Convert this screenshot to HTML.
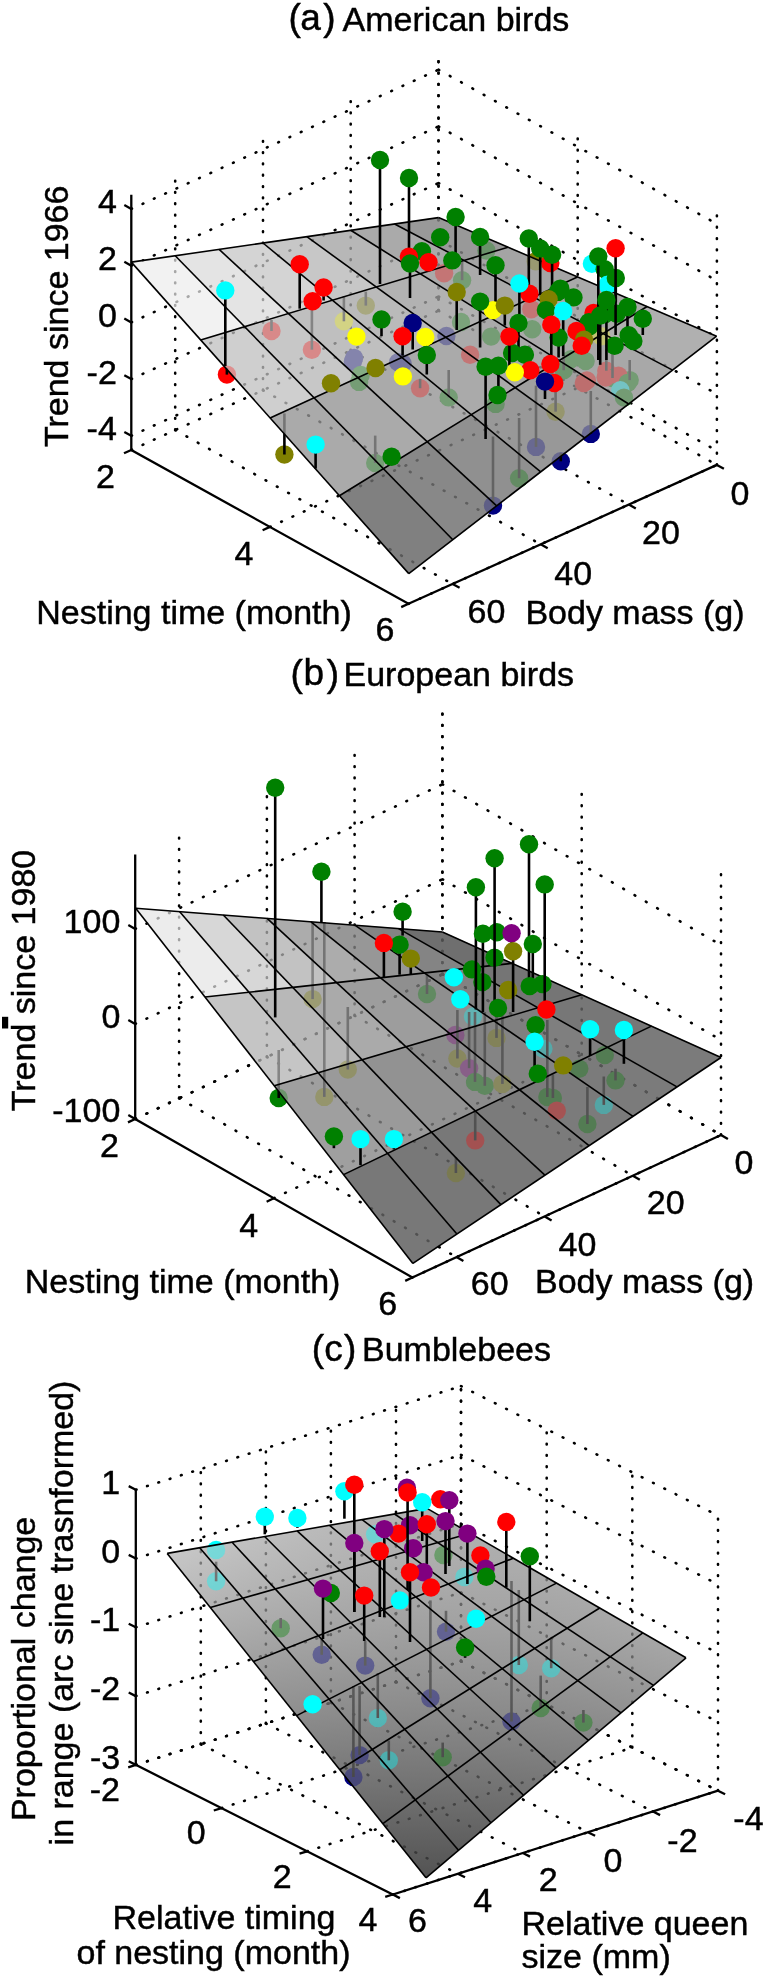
<!DOCTYPE html>
<html><head><meta charset="utf-8"><style>
html,body{margin:0;padding:0;background:#fff;}
svg{display:block;filter:blur(0.6px);}
</style></head><body>
<svg width="767" height="1983" viewBox="0 0 767 1983">
<rect width="767" height="1983" fill="#fff"/>
<g font-family="Liberation Sans, sans-serif" font-size="34" fill="#000">
<g id="under_a"><line x1="131.3" y1="435.8" x2="438.5" y2="296.5" stroke="#000" stroke-width="2.6" stroke-dasharray="0.77 11.64" stroke-linecap="round" fill="none"/>
<line x1="438.5" y1="296.5" x2="716.9" y2="450.7" stroke="#000" stroke-width="2.6" stroke-dasharray="0.80 12.12" stroke-linecap="round" fill="none"/>
<line x1="131.3" y1="379.1" x2="438.5" y2="239.8" stroke="#000" stroke-width="2.6" stroke-dasharray="0.77 11.64" stroke-linecap="round" fill="none"/>
<line x1="438.5" y1="239.8" x2="716.9" y2="394.0" stroke="#000" stroke-width="2.6" stroke-dasharray="0.80 12.12" stroke-linecap="round" fill="none"/>
<line x1="131.3" y1="322.4" x2="438.5" y2="183.1" stroke="#000" stroke-width="2.6" stroke-dasharray="0.77 11.64" stroke-linecap="round" fill="none"/>
<line x1="438.5" y1="183.1" x2="716.9" y2="337.3" stroke="#000" stroke-width="2.6" stroke-dasharray="0.80 12.12" stroke-linecap="round" fill="none"/>
<line x1="131.3" y1="265.7" x2="438.5" y2="126.4" stroke="#000" stroke-width="2.6" stroke-dasharray="0.77 11.64" stroke-linecap="round" fill="none"/>
<line x1="438.5" y1="126.4" x2="716.9" y2="280.6" stroke="#000" stroke-width="2.6" stroke-dasharray="0.80 12.12" stroke-linecap="round" fill="none"/>
<line x1="131.3" y1="209.0" x2="438.5" y2="69.7" stroke="#000" stroke-width="2.6" stroke-dasharray="0.77 11.64" stroke-linecap="round" fill="none"/>
<line x1="438.5" y1="69.7" x2="716.9" y2="223.9" stroke="#000" stroke-width="2.6" stroke-dasharray="0.80 12.12" stroke-linecap="round" fill="none"/>
<line x1="438.5" y1="310.7" x2="438.5" y2="55.5" stroke="#000" stroke-width="2.6" stroke-dasharray="0.70 10.60" stroke-linecap="round" fill="none"/>
<line x1="438.5" y1="310.7" x2="716.9" y2="464.9" stroke="#000" stroke-width="2.6" stroke-dasharray="0.80 12.12" stroke-linecap="round" fill="none"/>
<line x1="350.7" y1="350.5" x2="350.7" y2="95.3" stroke="#000" stroke-width="2.6" stroke-dasharray="0.70 10.60" stroke-linecap="round" fill="none"/>
<line x1="350.7" y1="350.5" x2="628.8" y2="504.6" stroke="#000" stroke-width="2.6" stroke-dasharray="0.80 12.12" stroke-linecap="round" fill="none"/>
<line x1="263.0" y1="390.3" x2="263.0" y2="135.2" stroke="#000" stroke-width="2.6" stroke-dasharray="0.70 10.60" stroke-linecap="round" fill="none"/>
<line x1="263.0" y1="390.3" x2="540.7" y2="544.3" stroke="#000" stroke-width="2.6" stroke-dasharray="0.80 12.12" stroke-linecap="round" fill="none"/>
<line x1="175.2" y1="430.1" x2="175.2" y2="175.0" stroke="#000" stroke-width="2.6" stroke-dasharray="0.70 10.60" stroke-linecap="round" fill="none"/>
<line x1="175.2" y1="430.1" x2="452.6" y2="584.0" stroke="#000" stroke-width="2.6" stroke-dasharray="0.80 12.12" stroke-linecap="round" fill="none"/>
<line x1="438.5" y1="310.7" x2="438.5" y2="55.5" stroke="#000" stroke-width="2.6" stroke-dasharray="0.70 10.60" stroke-linecap="round" fill="none"/>
<line x1="131.3" y1="450.0" x2="438.5" y2="310.7" stroke="#000" stroke-width="2.6" stroke-dasharray="0.77 11.64" stroke-linecap="round" fill="none"/>
<line x1="577.7" y1="387.8" x2="577.7" y2="132.6" stroke="#000" stroke-width="2.6" stroke-dasharray="0.70 10.60" stroke-linecap="round" fill="none"/>
<line x1="269.9" y1="526.9" x2="577.7" y2="387.8" stroke="#000" stroke-width="2.6" stroke-dasharray="0.77 11.63" stroke-linecap="round" fill="none"/>
<line x1="716.9" y1="464.9" x2="716.9" y2="209.7" stroke="#000" stroke-width="2.6" stroke-dasharray="0.70 10.60" stroke-linecap="round" fill="none"/>
<line x1="408.5" y1="603.8" x2="716.9" y2="464.9" stroke="#000" stroke-width="2.6" stroke-dasharray="0.77 11.63" stroke-linecap="round" fill="none"/>
<circle cx="462.1" cy="280.2" r="9.2" fill="#008000"/>
<circle cx="486.4" cy="250.5" r="9.2" fill="#008000"/>
<circle cx="535.7" cy="261.2" r="9.2" fill="#808000"/>
<circle cx="444.1" cy="273.2" r="9.2" fill="#ff0000"/>
<circle cx="365.8" cy="305.6" r="9.2" fill="#808000"/>
<circle cx="343.9" cy="321.3" r="9.2" fill="#ffff00"/>
<circle cx="311.9" cy="349.7" r="9.2" fill="#ff0000"/>
<circle cx="271.5" cy="331.0" r="9.2" fill="#ff0000"/>
<circle cx="531.3" cy="309.2" r="9.2" fill="#ff0000"/>
<circle cx="461.0" cy="322.0" r="9.2" fill="#008000"/>
<circle cx="532.2" cy="329.3" r="9.2" fill="#008000"/>
<circle cx="446.4" cy="336.0" r="9.2" fill="#000080"/>
<circle cx="601.1" cy="336.3" r="9.2" fill="#ffff00"/>
<circle cx="491.1" cy="336.6" r="9.2" fill="#008000"/>
<circle cx="606.3" cy="370.7" r="9.2" fill="#ff0000"/>
<circle cx="612.5" cy="378.0" r="9.2" fill="#008000"/>
<circle cx="563.7" cy="370.2" r="9.2" fill="#008000"/>
<circle cx="629.7" cy="380.1" r="9.2" fill="#008000"/>
<circle cx="470.1" cy="354.8" r="9.2" fill="#ff0000"/>
<circle cx="226.9" cy="374.6" r="9.2" fill="#ff0000"/>
<circle cx="354.1" cy="358.0" r="9.2" fill="#000080"/>
<circle cx="448.7" cy="397.4" r="9.2" fill="#008000"/>
<circle cx="571.0" cy="359.3" r="9.2" fill="#008000"/>
<circle cx="585.6" cy="361.1" r="9.2" fill="#008000"/>
<circle cx="352.9" cy="361.6" r="9.2" fill="#000080"/>
<circle cx="398.2" cy="362.3" r="9.2" fill="#000080"/>
<circle cx="402.6" cy="363.5" r="9.2" fill="#000080"/>
<circle cx="420.1" cy="388.2" r="9.2" fill="#ff0000"/>
<circle cx="536.0" cy="446.9" r="9.2" fill="#000080"/>
<circle cx="360.7" cy="375.0" r="9.2" fill="#008000"/>
<circle cx="618.5" cy="375.7" r="9.2" fill="#ff0000"/>
<circle cx="605.7" cy="377.5" r="9.2" fill="#ff0000"/>
<circle cx="555.6" cy="411.7" r="9.2" fill="#808000"/>
<circle cx="590.8" cy="433.9" r="9.2" fill="#000080"/>
<circle cx="586.9" cy="380.4" r="9.2" fill="#ff0000"/>
<circle cx="359.1" cy="381.9" r="9.2" fill="#008000"/>
<circle cx="583.8" cy="383.0" r="9.2" fill="#ff0000"/>
<circle cx="627.6" cy="383.0" r="9.2" fill="#008000"/>
<circle cx="620.3" cy="390.3" r="9.2" fill="#00ffff"/>
<circle cx="624.0" cy="397.6" r="9.2" fill="#008000"/>
<circle cx="284.4" cy="454.5" r="9.2" fill="#808000"/>
<circle cx="495.6" cy="403.9" r="9.2" fill="#008000"/>
<circle cx="519.1" cy="478.2" r="9.2" fill="#008000"/>
<circle cx="375.2" cy="463.0" r="9.2" fill="#008000"/>
<circle cx="493.0" cy="505.6" r="9.2" fill="#000080"/>
<circle cx="560.8" cy="461.3" r="9.2" fill="#000080"/>
<line x1="462.1" y1="280.2" x2="462.1" y2="262.0" stroke="#000" stroke-width="2.6"/>
<line x1="365.8" y1="305.6" x2="365.8" y2="291.6" stroke="#000" stroke-width="2.6"/>
<line x1="343.9" y1="321.3" x2="343.9" y2="296.0" stroke="#000" stroke-width="2.6"/>
<line x1="311.9" y1="349.7" x2="311.9" y2="306.0" stroke="#000" stroke-width="2.6"/>
<line x1="271.5" y1="331.0" x2="271.5" y2="320.0" stroke="#000" stroke-width="2.6"/>
<line x1="606.3" y1="370.7" x2="606.3" y2="349.0" stroke="#000" stroke-width="2.6"/>
<line x1="612.5" y1="378.0" x2="612.5" y2="349.0" stroke="#000" stroke-width="2.6"/>
<line x1="563.7" y1="370.2" x2="563.7" y2="355.0" stroke="#000" stroke-width="2.6"/>
<line x1="629.7" y1="380.1" x2="629.7" y2="360.0" stroke="#000" stroke-width="2.6"/>
<line x1="226.9" y1="374.6" x2="226.9" y2="368.0" stroke="#000" stroke-width="2.6"/>
<line x1="448.7" y1="397.4" x2="448.7" y2="370.0" stroke="#000" stroke-width="2.6"/>
<line x1="420.1" y1="388.2" x2="420.1" y2="378.8" stroke="#000" stroke-width="2.6"/>
<line x1="536.0" y1="446.9" x2="536.0" y2="385.6" stroke="#000" stroke-width="2.6"/>
<line x1="555.6" y1="411.7" x2="555.6" y2="390.0" stroke="#000" stroke-width="2.6"/>
<line x1="590.8" y1="433.9" x2="590.8" y2="391.0" stroke="#000" stroke-width="2.6"/>
<line x1="284.4" y1="454.5" x2="284.4" y2="413.4" stroke="#000" stroke-width="2.6"/>
<line x1="519.1" y1="478.2" x2="519.1" y2="418.0" stroke="#000" stroke-width="2.6"/>
<line x1="375.2" y1="463.0" x2="375.2" y2="435.6" stroke="#000" stroke-width="2.6"/>
<line x1="493.0" y1="505.6" x2="493.0" y2="436.5" stroke="#000" stroke-width="2.6"/>
<line x1="560.8" y1="461.3" x2="560.8" y2="453.0" stroke="#000" stroke-width="2.6"/></g>
<g><polygon points="131.3,262.1 200.7,340.0 244.6,326.7 175.2,255.7" fill="#f2f2f2" stroke="#f2f2f2" stroke-width="0.5"/>
<polygon points="175.2,255.7 244.6,326.7 288.5,313.5 219.1,249.4" fill="#e4e4e4" stroke="#e4e4e4" stroke-width="0.5"/>
<polygon points="219.1,249.4 288.5,313.5 332.4,300.2 263.0,243.0" fill="#d4d4d4" stroke="#d4d4d4" stroke-width="0.5"/>
<polygon points="263.0,243.0 332.4,300.2 376.3,287.0 306.8,236.7" fill="#c7c7c7" stroke="#c7c7c7" stroke-width="0.5"/>
<polygon points="306.8,236.7 376.3,287.0 420.2,273.7 350.7,230.3" fill="#b7b7b7" stroke="#b7b7b7" stroke-width="0.5"/>
<polygon points="350.7,230.3 420.2,273.7 464.1,260.5 394.6,224.0" fill="#aaaaaa" stroke="#aaaaaa" stroke-width="0.5"/>
<polygon points="394.6,224.0 464.1,260.5 508.0,247.2 438.5,217.6" fill="#999999" stroke="#999999" stroke-width="0.5"/>
<polygon points="200.7,340.0 270.1,417.9 314.0,397.7 244.6,326.7" fill="#cfcfcf" stroke="#cfcfcf" stroke-width="0.5"/>
<polygon points="244.6,326.7 314.0,397.7 357.9,377.6 288.5,313.5" fill="#c7c7c7" stroke="#c7c7c7" stroke-width="0.5"/>
<polygon points="288.5,313.5 357.9,377.6 401.8,357.4 332.4,300.2" fill="#bfbfbf" stroke="#bfbfbf" stroke-width="0.5"/>
<polygon points="332.4,300.2 401.8,357.4 445.8,337.3 376.3,287.0" fill="#bababa" stroke="#bababa" stroke-width="0.5"/>
<polygon points="376.3,287.0 445.8,337.3 489.7,317.2 420.2,273.7" fill="#b2b2b2" stroke="#b2b2b2" stroke-width="0.5"/>
<polygon points="420.2,273.7 489.7,317.2 533.6,297.0 464.1,260.5" fill="#aaaaaa" stroke="#aaaaaa" stroke-width="0.5"/>
<polygon points="464.1,260.5 533.6,297.0 577.5,276.9 508.0,247.2" fill="#a4a4a4" stroke="#a4a4a4" stroke-width="0.5"/>
<polygon points="270.1,417.9 339.4,495.7 383.4,468.7 314.0,397.7" fill="#aaaaaa" stroke="#aaaaaa" stroke-width="0.5"/>
<polygon points="314.0,397.7 383.4,468.7 427.3,441.7 357.9,377.6" fill="#aaaaaa" stroke="#aaaaaa" stroke-width="0.5"/>
<polygon points="357.9,377.6 427.3,441.7 471.3,414.7 401.8,357.4" fill="#aaaaaa" stroke="#aaaaaa" stroke-width="0.5"/>
<polygon points="401.8,357.4 471.3,414.7 515.2,387.6 445.8,337.3" fill="#aaaaaa" stroke="#aaaaaa" stroke-width="0.5"/>
<polygon points="445.8,337.3 515.2,387.6 559.2,360.6 489.7,317.2" fill="#aaaaaa" stroke="#aaaaaa" stroke-width="0.5"/>
<polygon points="489.7,317.2 559.2,360.6 603.1,333.6 533.6,297.0" fill="#aaaaaa" stroke="#aaaaaa" stroke-width="0.5"/>
<polygon points="533.6,297.0 603.1,333.6 647.1,306.5 577.5,276.9" fill="#aaaaaa" stroke="#aaaaaa" stroke-width="0.5"/>
<polygon points="339.4,495.7 408.8,573.6 452.8,539.7 383.4,468.7" fill="#808080" stroke="#808080" stroke-width="0.5"/>
<polygon points="383.4,468.7 452.8,539.7 496.7,505.8 427.3,441.7" fill="#888888" stroke="#888888" stroke-width="0.5"/>
<polygon points="427.3,441.7 496.7,505.8 540.7,471.9 471.3,414.7" fill="#909090" stroke="#909090" stroke-width="0.5"/>
<polygon points="471.3,414.7 540.7,471.9 584.7,437.9 515.2,387.6" fill="#989898" stroke="#989898" stroke-width="0.5"/>
<polygon points="515.2,387.6 584.7,437.9 628.7,404.0 559.2,360.6" fill="#a0a0a0" stroke="#a0a0a0" stroke-width="0.5"/>
<polygon points="559.2,360.6 628.7,404.0 672.6,370.1 603.1,333.6" fill="#a8a8a8" stroke="#a8a8a8" stroke-width="0.5"/>
<polygon points="603.1,333.6 672.6,370.1 716.6,336.2 647.1,306.5" fill="#b0b0b0" stroke="#b0b0b0" stroke-width="0.5"/></g>
<clipPath id="clip_a"><polygon points="131.3,262.1 408.8,573.6 716.6,336.2 438.5,217.6"/></clipPath>
<use href="#under_a" clip-path="url(#clip_a)" opacity="0.31"/>
<line x1="131.3" y1="262.1" x2="438.5" y2="217.6" stroke="#000" stroke-width="1.6" fill="none"/>
<line x1="200.7" y1="340.0" x2="508.0" y2="247.2" stroke="#000" stroke-width="1.6" fill="none"/>
<line x1="270.1" y1="417.9" x2="577.5" y2="276.9" stroke="#000" stroke-width="1.6" fill="none"/>
<line x1="339.4" y1="495.7" x2="647.1" y2="306.5" stroke="#000" stroke-width="1.6" fill="none"/>
<line x1="408.8" y1="573.6" x2="716.6" y2="336.2" stroke="#000" stroke-width="1.6" fill="none"/>
<line x1="131.3" y1="262.1" x2="408.8" y2="573.6" stroke="#000" stroke-width="1.6" fill="none"/>
<line x1="175.2" y1="255.7" x2="452.8" y2="539.7" stroke="#000" stroke-width="1.6" fill="none"/>
<line x1="219.1" y1="249.4" x2="496.7" y2="505.8" stroke="#000" stroke-width="1.6" fill="none"/>
<line x1="263.0" y1="243.0" x2="540.7" y2="471.9" stroke="#000" stroke-width="1.6" fill="none"/>
<line x1="306.8" y1="236.7" x2="584.7" y2="437.9" stroke="#000" stroke-width="1.6" fill="none"/>
<line x1="350.7" y1="230.3" x2="628.7" y2="404.0" stroke="#000" stroke-width="1.6" fill="none"/>
<line x1="394.6" y1="224.0" x2="672.6" y2="370.1" stroke="#000" stroke-width="1.6" fill="none"/>
<line x1="438.5" y1="217.6" x2="716.6" y2="336.2" stroke="#000" stroke-width="1.6" fill="none"/>
<circle cx="440.2" cy="237.2" r="9.2" fill="#008000"/>
<line x1="409.0" y1="178.0" x2="409.0" y2="252.0" stroke="#000" stroke-width="2.6"/><circle cx="409.0" cy="178.0" r="9.2" fill="#008000"/>
<line x1="455.6" y1="217.0" x2="455.6" y2="256.0" stroke="#000" stroke-width="2.6"/><circle cx="455.6" cy="217.0" r="9.2" fill="#008000"/>
<circle cx="421.9" cy="251.3" r="9.2" fill="#008000"/>
<circle cx="408.9" cy="256.8" r="9.2" fill="#ff0000"/>
<circle cx="452.3" cy="260.4" r="9.2" fill="#008000"/>
<circle cx="428.5" cy="262.2" r="9.2" fill="#ff0000"/>
<line x1="480.1" y1="236.9" x2="480.1" y2="275.0" stroke="#000" stroke-width="2.6"/><circle cx="480.1" cy="236.9" r="9.2" fill="#008000"/>
<circle cx="550.3" cy="263.0" r="9.2" fill="#ff0000"/>
<circle cx="591.9" cy="263.8" r="9.2" fill="#00ffff"/>
<circle cx="604.7" cy="269.2" r="9.2" fill="#008000"/>
<line x1="380.0" y1="160.0" x2="380.0" y2="284.0" stroke="#000" stroke-width="2.6"/><circle cx="380.0" cy="160.0" r="9.2" fill="#008000"/>
<line x1="528.8" y1="238.5" x2="528.8" y2="295.0" stroke="#000" stroke-width="2.6"/><circle cx="528.8" cy="238.5" r="9.2" fill="#008000"/>
<line x1="540.2" y1="248.4" x2="540.2" y2="295.0" stroke="#000" stroke-width="2.6"/><circle cx="540.2" cy="248.4" r="9.2" fill="#008000"/>
<line x1="552.1" y1="254.8" x2="552.1" y2="295.0" stroke="#000" stroke-width="2.6"/><circle cx="552.1" cy="254.8" r="9.2" fill="#008000"/>
<circle cx="607.5" cy="284.7" r="9.2" fill="#00ffff"/>
<line x1="410.0" y1="263.5" x2="410.0" y2="298.0" stroke="#000" stroke-width="2.6"/><circle cx="410.0" cy="263.5" r="9.2" fill="#008000"/>
<line x1="323.6" y1="287.5" x2="323.6" y2="300.5" stroke="#000" stroke-width="2.6"/><circle cx="323.6" cy="287.5" r="9.2" fill="#ff0000"/>
<circle cx="560.3" cy="288.6" r="9.2" fill="#008000"/>
<line x1="615.8" y1="278.0" x2="615.8" y2="302.5" stroke="#000" stroke-width="2.6"/><circle cx="615.8" cy="278.0" r="9.2" fill="#008000"/>
<circle cx="557.7" cy="291.9" r="9.2" fill="#008000"/>
<circle cx="529.4" cy="293.7" r="9.2" fill="#ff0000"/>
<line x1="299.7" y1="264.2" x2="299.7" y2="308.7" stroke="#000" stroke-width="2.6"/><circle cx="299.7" cy="264.2" r="9.2" fill="#ff0000"/>
<circle cx="573.5" cy="297.4" r="9.2" fill="#008000"/>
<line x1="495.5" y1="265.2" x2="495.5" y2="310.0" stroke="#000" stroke-width="2.6"/><circle cx="495.5" cy="265.2" r="9.2" fill="#008000"/>
<circle cx="548.6" cy="299.2" r="9.2" fill="#808000"/>
<circle cx="312.6" cy="301.2" r="9.2" fill="#ff0000"/>
<line x1="519.4" y1="283.5" x2="519.4" y2="317.0" stroke="#000" stroke-width="2.6"/><circle cx="519.4" cy="283.5" r="9.2" fill="#00ffff"/>
<circle cx="492.9" cy="310.1" r="9.2" fill="#ffff00"/>
<circle cx="545.9" cy="310.1" r="9.2" fill="#008000"/>
<circle cx="593.5" cy="312.9" r="9.2" fill="#ff0000"/>
<line x1="504.8" y1="305.6" x2="504.8" y2="325.6" stroke="#000" stroke-width="2.6"/><circle cx="504.8" cy="305.6" r="9.2" fill="#808000"/>
<circle cx="616.7" cy="313.7" r="9.2" fill="#008000"/>
<circle cx="605.2" cy="314.0" r="9.2" fill="#008000"/>
<line x1="456.7" y1="292.0" x2="456.7" y2="330.0" stroke="#000" stroke-width="2.6"/><circle cx="456.7" cy="292.0" r="9.2" fill="#808000"/>
<line x1="627.5" y1="307.0" x2="627.5" y2="332.0" stroke="#000" stroke-width="2.6"/><circle cx="627.5" cy="307.0" r="9.2" fill="#008000"/>
<circle cx="588.8" cy="322.2" r="9.2" fill="#008000"/>
<line x1="615.6" y1="248.3" x2="615.6" y2="335.0" stroke="#000" stroke-width="2.6"/><circle cx="615.6" cy="248.3" r="9.2" fill="#ff0000"/>
<line x1="642.8" y1="318.7" x2="642.8" y2="335.0" stroke="#000" stroke-width="2.6"/><circle cx="642.8" cy="318.7" r="9.2" fill="#008000"/>
<line x1="381.5" y1="319.4" x2="381.5" y2="336.2" stroke="#000" stroke-width="2.6"/><circle cx="381.5" cy="319.4" r="9.2" fill="#008000"/>
<circle cx="589.3" cy="326.4" r="9.2" fill="#008000"/>
<circle cx="576.5" cy="331.0" r="9.2" fill="#ff0000"/>
<circle cx="628.7" cy="335.2" r="9.2" fill="#008000"/>
<line x1="480.1" y1="301.6" x2="480.1" y2="347.5" stroke="#000" stroke-width="2.6"/><circle cx="480.1" cy="301.6" r="9.2" fill="#008000"/>
<circle cx="356.4" cy="336.6" r="9.2" fill="#ffff00"/>
<line x1="518.5" y1="322.9" x2="518.5" y2="349.0" stroke="#000" stroke-width="2.6"/><circle cx="518.5" cy="322.9" r="9.2" fill="#008000"/>
<circle cx="425.3" cy="337.0" r="9.2" fill="#ffff00"/>
<line x1="412.7" y1="322.9" x2="412.7" y2="349.5" stroke="#000" stroke-width="2.6"/><circle cx="412.7" cy="322.9" r="9.2" fill="#000080"/>
<circle cx="584.1" cy="339.8" r="9.2" fill="#808000"/>
<circle cx="633.4" cy="341.0" r="9.2" fill="#008000"/>
<line x1="402.6" y1="336.2" x2="402.6" y2="355.7" stroke="#000" stroke-width="2.6"/><circle cx="402.6" cy="336.2" r="9.2" fill="#ff0000"/>
<line x1="563.2" y1="311.0" x2="563.2" y2="356.0" stroke="#000" stroke-width="2.6"/><circle cx="563.2" cy="311.0" r="9.2" fill="#00ffff"/>
<line x1="558.6" y1="337.5" x2="558.6" y2="357.5" stroke="#000" stroke-width="2.6"/><circle cx="558.6" cy="337.5" r="9.2" fill="#008000"/>
<circle cx="581.7" cy="345.7" r="9.2" fill="#ff0000"/>
<circle cx="614.6" cy="345.7" r="9.2" fill="#008000"/>
<line x1="598.3" y1="256.5" x2="598.3" y2="360.0" stroke="#000" stroke-width="2.6"/><circle cx="598.3" cy="256.5" r="9.2" fill="#008000"/>
<line x1="606.4" y1="300.0" x2="606.4" y2="360.0" stroke="#000" stroke-width="2.6"/><circle cx="606.4" cy="300.0" r="9.2" fill="#008000"/>
<line x1="551.3" y1="324.7" x2="551.3" y2="362.0" stroke="#000" stroke-width="2.6"/><circle cx="551.3" cy="324.7" r="9.2" fill="#ff0000"/>
<line x1="600.2" y1="315.5" x2="600.2" y2="364.8" stroke="#000" stroke-width="2.6"/><circle cx="600.2" cy="315.5" r="9.2" fill="#008000"/>
<circle cx="512.1" cy="353.0" r="9.2" fill="#008000"/>
<line x1="225.3" y1="290.4" x2="225.3" y2="366.0" stroke="#000" stroke-width="2.6"/><circle cx="225.3" cy="290.4" r="9.2" fill="#00ffff"/>
<circle cx="524.9" cy="354.8" r="9.2" fill="#008000"/>
<line x1="509.4" y1="336.6" x2="509.4" y2="367.6" stroke="#000" stroke-width="2.6"/><circle cx="509.4" cy="336.6" r="9.2" fill="#ff0000"/>
<line x1="426.8" y1="354.9" x2="426.8" y2="374.5" stroke="#000" stroke-width="2.6"/><circle cx="426.8" cy="354.9" r="9.2" fill="#008000"/>
<circle cx="550.4" cy="364.0" r="9.2" fill="#ff0000"/>
<circle cx="375.5" cy="368.0" r="9.2" fill="#808000"/>
<circle cx="530.3" cy="370.3" r="9.2" fill="#ff0000"/>
<circle cx="514.8" cy="372.2" r="9.2" fill="#ffff00"/>
<circle cx="402.9" cy="376.4" r="9.2" fill="#ffff00"/>
<line x1="498.4" y1="365.8" x2="498.4" y2="391.0" stroke="#000" stroke-width="2.6"/><circle cx="498.4" cy="365.8" r="9.2" fill="#008000"/>
<circle cx="554.3" cy="383.0" r="9.2" fill="#ff0000"/>
<circle cx="331.0" cy="383.2" r="9.2" fill="#808000"/>
<line x1="545.0" y1="381.6" x2="545.0" y2="399.0" stroke="#000" stroke-width="2.6"/><circle cx="545.0" cy="381.6" r="9.2" fill="#000080"/>
<circle cx="497.5" cy="395.0" r="9.2" fill="#008000"/>
<line x1="485.6" y1="366.7" x2="485.6" y2="439.0" stroke="#000" stroke-width="2.6"/><circle cx="485.6" cy="366.7" r="9.2" fill="#008000"/>
<line x1="315.6" y1="444.6" x2="315.6" y2="468.6" stroke="#000" stroke-width="2.6"/><circle cx="315.6" cy="444.6" r="9.2" fill="#00ffff"/>
<circle cx="391.6" cy="456.8" r="9.2" fill="#008000"/>
<polyline points="131.3,194.8 131.3,450.0 408.5,603.8 716.9,464.9" stroke="#000" stroke-width="2.3" fill="none" stroke-linejoin="miter"/>
<line x1="131.3" y1="435.8" x2="124.3" y2="431.9" stroke="#000" stroke-width="2.3" fill="none"/>
<line x1="131.3" y1="379.1" x2="124.3" y2="375.2" stroke="#000" stroke-width="2.3" fill="none"/>
<line x1="131.3" y1="322.4" x2="124.3" y2="318.5" stroke="#000" stroke-width="2.3" fill="none"/>
<line x1="131.3" y1="265.7" x2="124.3" y2="261.8" stroke="#000" stroke-width="2.3" fill="none"/>
<line x1="131.3" y1="209.0" x2="124.3" y2="205.1" stroke="#000" stroke-width="2.3" fill="none"/>
<line x1="131.3" y1="450.0" x2="124.0" y2="453.3" stroke="#000" stroke-width="2.3" fill="none"/>
<line x1="269.9" y1="526.9" x2="262.6" y2="530.2" stroke="#000" stroke-width="2.3" fill="none"/>
<line x1="408.5" y1="603.8" x2="401.2" y2="607.1" stroke="#000" stroke-width="2.3" fill="none"/>
<line x1="716.9" y1="464.9" x2="723.9" y2="468.8" stroke="#000" stroke-width="2.3" fill="none"/>
<line x1="628.8" y1="504.6" x2="635.8" y2="508.5" stroke="#000" stroke-width="2.3" fill="none"/>
<line x1="540.7" y1="544.3" x2="547.7" y2="548.2" stroke="#000" stroke-width="2.3" fill="none"/>
<line x1="452.6" y1="584.0" x2="459.6" y2="587.8" stroke="#000" stroke-width="2.3" fill="none"/>
<text x="288.6" y="30.4" font-size="37" text-anchor="start" stroke="#000" stroke-width="0.45">(</text>
<text x="310.6" y="30.4" font-size="37" text-anchor="middle" stroke="#000" stroke-width="0.45">a</text>
<text x="323.2" y="30.4" font-size="37" text-anchor="start" stroke="#000" stroke-width="0.45">)</text>
<text x="342.6" y="30.5" text-anchor="start" stroke="#000" stroke-width="0.45">American birds</text>
<text x="68.2" y="316.3" text-anchor="middle" stroke="#000" stroke-width="0.45" transform="rotate(-90 68.2 316.3)">Trend since 1966</text>
<text x="116.8" y="212.5" text-anchor="end" stroke="#000" stroke-width="0.45">4</text>
<text x="116.8" y="269.7" text-anchor="end" stroke="#000" stroke-width="0.45">2</text>
<text x="116.8" y="327.0" text-anchor="end" stroke="#000" stroke-width="0.45">0</text>
<text x="116.8" y="384.0" text-anchor="end" stroke="#000" stroke-width="0.45">-2</text>
<text x="116.8" y="440.0" text-anchor="end" stroke="#000" stroke-width="0.45">-4</text>
<text x="105.5" y="488.0" text-anchor="middle" stroke="#000" stroke-width="0.45">2</text>
<text x="244.0" y="565.0" text-anchor="middle" stroke="#000" stroke-width="0.45">4</text>
<text x="385.0" y="641.0" text-anchor="middle" stroke="#000" stroke-width="0.45">6</text>
<text x="194.0" y="624.0" text-anchor="middle" stroke="#000" stroke-width="0.45">Nesting time (month)</text>
<text x="740.0" y="505.0" text-anchor="middle" stroke="#000" stroke-width="0.45">0</text>
<text x="661.0" y="544.4" text-anchor="middle" stroke="#000" stroke-width="0.45">20</text>
<text x="573.2" y="585.0" text-anchor="middle" stroke="#000" stroke-width="0.45">40</text>
<text x="486.5" y="623.3" text-anchor="middle" stroke="#000" stroke-width="0.45">60</text>
<text x="635.0" y="624.0" text-anchor="middle" stroke="#000" stroke-width="0.45">Body mass (g)</text>
<g id="under_b"><line x1="135.2" y1="1119.0" x2="442.4" y2="974.3" stroke="#000" stroke-width="2.6" stroke-dasharray="0.77 11.72" stroke-linecap="round" fill="none"/>
<line x1="442.4" y1="974.3" x2="721.0" y2="1135.0" stroke="#000" stroke-width="2.6" stroke-dasharray="0.81 12.24" stroke-linecap="round" fill="none"/>
<line x1="135.2" y1="1024.0" x2="442.4" y2="879.3" stroke="#000" stroke-width="2.6" stroke-dasharray="0.77 11.72" stroke-linecap="round" fill="none"/>
<line x1="442.4" y1="879.3" x2="721.0" y2="1040.0" stroke="#000" stroke-width="2.6" stroke-dasharray="0.81 12.24" stroke-linecap="round" fill="none"/>
<line x1="135.2" y1="929.0" x2="442.4" y2="784.3" stroke="#000" stroke-width="2.6" stroke-dasharray="0.77 11.72" stroke-linecap="round" fill="none"/>
<line x1="442.4" y1="784.3" x2="721.0" y2="945.0" stroke="#000" stroke-width="2.6" stroke-dasharray="0.81 12.24" stroke-linecap="round" fill="none"/>
<line x1="442.4" y1="974.3" x2="442.4" y2="709.8" stroke="#000" stroke-width="2.6" stroke-dasharray="0.70 10.60" stroke-linecap="round" fill="none"/>
<line x1="442.4" y1="974.3" x2="721.0" y2="1135.0" stroke="#000" stroke-width="2.6" stroke-dasharray="0.81 12.24" stroke-linecap="round" fill="none"/>
<line x1="354.6" y1="1015.6" x2="354.6" y2="751.2" stroke="#000" stroke-width="2.6" stroke-dasharray="0.70 10.60" stroke-linecap="round" fill="none"/>
<line x1="354.6" y1="1015.6" x2="632.8" y2="1175.7" stroke="#000" stroke-width="2.6" stroke-dasharray="0.81 12.23" stroke-linecap="round" fill="none"/>
<line x1="266.9" y1="1057.0" x2="266.9" y2="792.5" stroke="#000" stroke-width="2.6" stroke-dasharray="0.70 10.60" stroke-linecap="round" fill="none"/>
<line x1="266.9" y1="1057.0" x2="544.7" y2="1216.4" stroke="#000" stroke-width="2.6" stroke-dasharray="0.81 12.22" stroke-linecap="round" fill="none"/>
<line x1="179.1" y1="1098.3" x2="179.1" y2="833.8" stroke="#000" stroke-width="2.6" stroke-dasharray="0.70 10.60" stroke-linecap="round" fill="none"/>
<line x1="179.1" y1="1098.3" x2="456.5" y2="1257.1" stroke="#000" stroke-width="2.6" stroke-dasharray="0.81 12.21" stroke-linecap="round" fill="none"/>
<line x1="442.4" y1="974.3" x2="442.4" y2="709.8" stroke="#000" stroke-width="2.6" stroke-dasharray="0.70 10.60" stroke-linecap="round" fill="none"/>
<line x1="135.2" y1="1119.0" x2="442.4" y2="974.3" stroke="#000" stroke-width="2.6" stroke-dasharray="0.77 11.72" stroke-linecap="round" fill="none"/>
<line x1="581.7" y1="1054.7" x2="581.7" y2="790.2" stroke="#000" stroke-width="2.6" stroke-dasharray="0.70 10.60" stroke-linecap="round" fill="none"/>
<line x1="273.8" y1="1198.2" x2="581.7" y2="1054.7" stroke="#000" stroke-width="2.6" stroke-dasharray="0.77 11.70" stroke-linecap="round" fill="none"/>
<line x1="721.0" y1="1135.0" x2="721.0" y2="870.5" stroke="#000" stroke-width="2.6" stroke-dasharray="0.70 10.60" stroke-linecap="round" fill="none"/>
<line x1="412.4" y1="1277.5" x2="721.0" y2="1135.0" stroke="#000" stroke-width="2.6" stroke-dasharray="0.77 11.68" stroke-linecap="round" fill="none"/>
<circle cx="312.6" cy="999.1" r="9.2" fill="#808000"/>
<circle cx="324.3" cy="1096.9" r="9.2" fill="#808000"/>
<circle cx="427.0" cy="994.0" r="9.2" fill="#008000"/>
<circle cx="347.8" cy="1069.5" r="9.2" fill="#808000"/>
<circle cx="457.4" cy="1058.5" r="9.2" fill="#808000"/>
<circle cx="496.5" cy="1037.9" r="9.2" fill="#808000"/>
<circle cx="469.1" cy="1068.2" r="9.2" fill="#800080"/>
<circle cx="475.0" cy="1081.9" r="9.2" fill="#008000"/>
<circle cx="484.8" cy="1085.8" r="9.2" fill="#008000"/>
<circle cx="502.4" cy="1083.9" r="9.2" fill="#808000"/>
<circle cx="547.3" cy="1097.0" r="9.2" fill="#008000"/>
<circle cx="473.0" cy="1016.4" r="9.2" fill="#00ffff"/>
<circle cx="455.4" cy="1035.0" r="9.2" fill="#800080"/>
<circle cx="278.7" cy="1098.0" r="9.2" fill="#008000"/>
<circle cx="543.4" cy="1048.7" r="9.2" fill="#00ffff"/>
<circle cx="604.8" cy="1055.0" r="9.2" fill="#008000"/>
<circle cx="615.5" cy="1080.4" r="9.2" fill="#008000"/>
<circle cx="552.9" cy="1098.0" r="9.2" fill="#008000"/>
<circle cx="603.8" cy="1104.9" r="9.2" fill="#00ffff"/>
<circle cx="579.3" cy="1068.7" r="9.2" fill="#008000"/>
<circle cx="587.4" cy="1124.0" r="9.2" fill="#008000"/>
<circle cx="475.2" cy="1140.4" r="9.2" fill="#ff0000"/>
<circle cx="556.8" cy="1110.7" r="9.2" fill="#ff0000"/>
<circle cx="455.9" cy="1173.0" r="9.2" fill="#808000"/>
<line x1="312.6" y1="999.1" x2="312.6" y2="922.0" stroke="#000" stroke-width="2.6"/>
<line x1="324.3" y1="1096.9" x2="324.3" y2="922.0" stroke="#000" stroke-width="2.6"/>
<line x1="427.0" y1="994.0" x2="427.0" y2="974.7" stroke="#000" stroke-width="2.6"/>
<line x1="347.8" y1="1069.5" x2="347.8" y2="1007.0" stroke="#000" stroke-width="2.6"/>
<line x1="457.4" y1="1058.5" x2="457.4" y2="1010.0" stroke="#000" stroke-width="2.6"/>
<line x1="496.5" y1="1037.9" x2="496.5" y2="1010.0" stroke="#000" stroke-width="2.6"/>
<line x1="469.1" y1="1068.2" x2="469.1" y2="1012.0" stroke="#000" stroke-width="2.6"/>
<line x1="475.0" y1="1081.9" x2="475.0" y2="1012.0" stroke="#000" stroke-width="2.6"/>
<line x1="484.8" y1="1085.8" x2="484.8" y2="1012.0" stroke="#000" stroke-width="2.6"/>
<line x1="502.4" y1="1083.9" x2="502.4" y2="1012.0" stroke="#000" stroke-width="2.6"/>
<line x1="547.3" y1="1097.0" x2="547.3" y2="1020.0" stroke="#000" stroke-width="2.6"/>
<line x1="278.7" y1="1098.0" x2="278.7" y2="1050.0" stroke="#000" stroke-width="2.6"/>
<line x1="615.5" y1="1080.4" x2="615.5" y2="1068.7" stroke="#000" stroke-width="2.6"/>
<line x1="552.9" y1="1098.0" x2="552.9" y2="1074.5" stroke="#000" stroke-width="2.6"/>
<line x1="603.8" y1="1104.9" x2="603.8" y2="1076.5" stroke="#000" stroke-width="2.6"/>
<line x1="587.4" y1="1124.0" x2="587.4" y2="1087.0" stroke="#000" stroke-width="2.6"/>
<line x1="475.2" y1="1140.4" x2="475.2" y2="1111.7" stroke="#000" stroke-width="2.6"/>
<line x1="455.9" y1="1173.0" x2="455.9" y2="1157.4" stroke="#000" stroke-width="2.6"/></g>
<g><polygon points="135.7,908.2 205.0,997.0 248.9,992.2 179.5,911.6" fill="#ececec" stroke="#ececec" stroke-width="0.5"/>
<polygon points="179.5,911.6 248.9,992.2 292.7,987.4 223.3,915.0" fill="#d7d7d7" stroke="#d7d7d7" stroke-width="0.5"/>
<polygon points="223.3,915.0 292.7,987.4 336.6,982.6 267.1,918.4" fill="#c2c2c2" stroke="#c2c2c2" stroke-width="0.5"/>
<polygon points="267.1,918.4 336.6,982.6 380.5,977.8 311.0,921.8" fill="#acacac" stroke="#acacac" stroke-width="0.5"/>
<polygon points="311.0,921.8 380.5,977.8 424.3,973.0 354.8,925.2" fill="#979797" stroke="#979797" stroke-width="0.5"/>
<polygon points="354.8,925.2 424.3,973.0 468.2,968.2 398.6,928.6" fill="#848484" stroke="#848484" stroke-width="0.5"/>
<polygon points="398.6,928.6 468.2,968.2 512.0,963.4 442.4,932.0" fill="#6f6f6f" stroke="#6f6f6f" stroke-width="0.5"/>
<polygon points="205.0,997.0 274.3,1085.8 318.2,1072.8 248.9,992.2" fill="#c5c5c5" stroke="#c5c5c5" stroke-width="0.5"/>
<polygon points="248.9,992.2 318.2,1072.8 362.1,1059.8 292.7,987.4" fill="#b8b8b8" stroke="#b8b8b8" stroke-width="0.5"/>
<polygon points="292.7,987.4 362.1,1059.8 406.0,1046.8 336.6,982.6" fill="#aaaaaa" stroke="#aaaaaa" stroke-width="0.5"/>
<polygon points="336.6,982.6 406.0,1046.8 450.0,1033.8 380.5,977.8" fill="#9d9d9d" stroke="#9d9d9d" stroke-width="0.5"/>
<polygon points="380.5,977.8 450.0,1033.8 493.9,1020.8 424.3,973.0" fill="#8f8f8f" stroke="#8f8f8f" stroke-width="0.5"/>
<polygon points="424.3,973.0 493.9,1020.8 537.8,1007.8 468.2,968.2" fill="#828282" stroke="#828282" stroke-width="0.5"/>
<polygon points="468.2,968.2 537.8,1007.8 581.7,994.8 512.0,963.4" fill="#757575" stroke="#757575" stroke-width="0.5"/>
<polygon points="274.3,1085.8 343.6,1174.6 387.6,1153.4 318.2,1072.8" fill="#9f9f9f" stroke="#9f9f9f" stroke-width="0.5"/>
<polygon points="318.2,1072.8 387.6,1153.4 431.5,1132.2 362.1,1059.8" fill="#9a9a9a" stroke="#9a9a9a" stroke-width="0.5"/>
<polygon points="362.1,1059.8 431.5,1132.2 475.5,1111.0 406.0,1046.8" fill="#929292" stroke="#929292" stroke-width="0.5"/>
<polygon points="406.0,1046.8 475.5,1111.0 519.5,1089.8 450.0,1033.8" fill="#8c8c8c" stroke="#8c8c8c" stroke-width="0.5"/>
<polygon points="450.0,1033.8 519.5,1089.8 563.4,1068.5 493.9,1020.8" fill="#848484" stroke="#848484" stroke-width="0.5"/>
<polygon points="493.9,1020.8 563.4,1068.5 607.4,1047.3 537.8,1007.8" fill="#7f7f7f" stroke="#7f7f7f" stroke-width="0.5"/>
<polygon points="537.8,1007.8 607.4,1047.3 651.4,1026.1 581.7,994.8" fill="#777777" stroke="#777777" stroke-width="0.5"/>
<polygon points="343.6,1174.6 412.9,1263.4 456.9,1234.0 387.6,1153.4" fill="#787878" stroke="#787878" stroke-width="0.5"/>
<polygon points="387.6,1153.4 456.9,1234.0 500.9,1204.6 431.5,1132.2" fill="#787878" stroke="#787878" stroke-width="0.5"/>
<polygon points="431.5,1132.2 500.9,1204.6 544.9,1175.2 475.5,1111.0" fill="#787878" stroke="#787878" stroke-width="0.5"/>
<polygon points="475.5,1111.0 544.9,1175.2 589.0,1145.7 519.5,1089.8" fill="#7b7b7b" stroke="#7b7b7b" stroke-width="0.5"/>
<polygon points="519.5,1089.8 589.0,1145.7 633.0,1116.3 563.4,1068.5" fill="#7b7b7b" stroke="#7b7b7b" stroke-width="0.5"/>
<polygon points="563.4,1068.5 633.0,1116.3 677.0,1086.9 607.4,1047.3" fill="#7b7b7b" stroke="#7b7b7b" stroke-width="0.5"/>
<polygon points="607.4,1047.3 677.0,1086.9 721.0,1057.5 651.4,1026.1" fill="#7b7b7b" stroke="#7b7b7b" stroke-width="0.5"/></g>
<clipPath id="clip_b"><polygon points="135.7,908.2 412.9,1263.4 721.0,1057.5 442.4,932.0"/></clipPath>
<use href="#under_b" clip-path="url(#clip_b)" opacity="0.32"/>
<line x1="135.7" y1="908.2" x2="442.4" y2="932.0" stroke="#000" stroke-width="1.6" fill="none"/>
<line x1="205.0" y1="997.0" x2="512.0" y2="963.4" stroke="#000" stroke-width="1.6" fill="none"/>
<line x1="274.3" y1="1085.8" x2="581.7" y2="994.8" stroke="#000" stroke-width="1.6" fill="none"/>
<line x1="343.6" y1="1174.6" x2="651.4" y2="1026.1" stroke="#000" stroke-width="1.6" fill="none"/>
<line x1="412.9" y1="1263.4" x2="721.0" y2="1057.5" stroke="#000" stroke-width="1.6" fill="none"/>
<line x1="135.7" y1="908.2" x2="412.9" y2="1263.4" stroke="#000" stroke-width="1.6" fill="none"/>
<line x1="179.5" y1="911.6" x2="456.9" y2="1234.0" stroke="#000" stroke-width="1.6" fill="none"/>
<line x1="223.3" y1="915.0" x2="500.9" y2="1204.6" stroke="#000" stroke-width="1.6" fill="none"/>
<line x1="267.1" y1="918.4" x2="544.9" y2="1175.2" stroke="#000" stroke-width="1.6" fill="none"/>
<line x1="311.0" y1="921.8" x2="589.0" y2="1145.7" stroke="#000" stroke-width="1.6" fill="none"/>
<line x1="354.8" y1="925.2" x2="633.0" y2="1116.3" stroke="#000" stroke-width="1.6" fill="none"/>
<line x1="398.6" y1="928.6" x2="677.0" y2="1086.9" stroke="#000" stroke-width="1.6" fill="none"/>
<line x1="442.4" y1="932.0" x2="721.0" y2="1057.5" stroke="#000" stroke-width="1.6" fill="none"/>
<line x1="321.4" y1="871.7" x2="321.4" y2="922.6" stroke="#000" stroke-width="2.6"/><circle cx="321.4" cy="871.7" r="9.2" fill="#008000"/>
<line x1="402.6" y1="911.8" x2="402.6" y2="935.6" stroke="#000" stroke-width="2.6"/><circle cx="402.6" cy="911.8" r="9.2" fill="#008000"/>
<circle cx="496.8" cy="932.2" r="9.2" fill="#008000"/>
<line x1="511.6" y1="933.3" x2="511.6" y2="949.0" stroke="#000" stroke-width="2.6"/><circle cx="511.6" cy="933.3" r="9.2" fill="#800080"/>
<circle cx="494.5" cy="957.7" r="9.2" fill="#008000"/>
<line x1="399.6" y1="944.7" x2="399.6" y2="974.7" stroke="#000" stroke-width="2.6"/><circle cx="399.6" cy="944.7" r="9.2" fill="#008000"/>
<line x1="410.8" y1="958.6" x2="410.8" y2="974.7" stroke="#000" stroke-width="2.6"/><circle cx="410.8" cy="958.6" r="9.2" fill="#808000"/>
<line x1="383.9" y1="942.9" x2="383.9" y2="977.3" stroke="#000" stroke-width="2.6"/><circle cx="383.9" cy="942.9" r="9.2" fill="#ff0000"/>
<circle cx="472.0" cy="969.4" r="9.2" fill="#008000"/>
<line x1="529.0" y1="844.3" x2="529.0" y2="982.0" stroke="#000" stroke-width="2.6"/><circle cx="529.0" cy="844.3" r="9.2" fill="#008000"/>
<line x1="532.8" y1="944.0" x2="532.8" y2="982.0" stroke="#000" stroke-width="2.6"/><circle cx="532.8" cy="944.0" r="9.2" fill="#008000"/>
<circle cx="453.9" cy="977.3" r="9.2" fill="#00ffff"/>
<circle cx="482.4" cy="982.1" r="9.2" fill="#008000"/>
<circle cx="542.5" cy="984.1" r="9.2" fill="#008000"/>
<circle cx="529.7" cy="986.1" r="9.2" fill="#008000"/>
<line x1="544.7" y1="884.4" x2="544.7" y2="1001.7" stroke="#000" stroke-width="2.6"/><circle cx="544.7" cy="884.4" r="9.2" fill="#008000"/>
<circle cx="508.2" cy="990.0" r="9.2" fill="#808000"/>
<line x1="475.9" y1="887.3" x2="475.9" y2="1009.5" stroke="#000" stroke-width="2.6"/><circle cx="475.9" cy="887.3" r="9.2" fill="#008000"/>
<circle cx="460.3" cy="999.3" r="9.2" fill="#00ffff"/>
<line x1="482.9" y1="933.8" x2="482.9" y2="1012.0" stroke="#000" stroke-width="2.6"/><circle cx="482.9" cy="933.8" r="9.2" fill="#008000"/>
<line x1="513.1" y1="951.2" x2="513.1" y2="1012.0" stroke="#000" stroke-width="2.6"/><circle cx="513.1" cy="951.2" r="9.2" fill="#808000"/>
<line x1="494.6" y1="858.2" x2="494.6" y2="1015.0" stroke="#000" stroke-width="2.6"/><circle cx="494.6" cy="858.2" r="9.2" fill="#008000"/>
<line x1="275.2" y1="787.7" x2="275.2" y2="1017.4" stroke="#000" stroke-width="2.6"/><circle cx="275.2" cy="787.7" r="9.2" fill="#008000"/>
<circle cx="498.0" cy="1008.0" r="9.2" fill="#008000"/>
<circle cx="546.4" cy="1009.5" r="9.2" fill="#ff0000"/>
<circle cx="535.6" cy="1025.2" r="9.2" fill="#008000"/>
<line x1="590.1" y1="1029.2" x2="590.1" y2="1056.0" stroke="#000" stroke-width="2.6"/><circle cx="590.1" cy="1029.2" r="9.2" fill="#00ffff"/>
<line x1="623.9" y1="1030.0" x2="623.9" y2="1063.8" stroke="#000" stroke-width="2.6"/><circle cx="623.9" cy="1030.0" r="9.2" fill="#00ffff"/>
<line x1="534.6" y1="1041.8" x2="534.6" y2="1076.0" stroke="#000" stroke-width="2.6"/><circle cx="534.6" cy="1041.8" r="9.2" fill="#00ffff"/>
<circle cx="563.2" cy="1065.4" r="9.2" fill="#808000"/>
<circle cx="537.8" cy="1073.8" r="9.2" fill="#008000"/>
<line x1="333.9" y1="1136.5" x2="333.9" y2="1148.2" stroke="#000" stroke-width="2.6"/><circle cx="333.9" cy="1136.5" r="9.2" fill="#008000"/>
<line x1="393.9" y1="1139.1" x2="393.9" y2="1149.5" stroke="#000" stroke-width="2.6"/><circle cx="393.9" cy="1139.1" r="9.2" fill="#00ffff"/>
<line x1="360.5" y1="1139.1" x2="360.5" y2="1165.2" stroke="#000" stroke-width="2.6"/><circle cx="360.5" cy="1139.1" r="9.2" fill="#00ffff"/>
<polyline points="135.2,854.5 135.2,1119.0 412.4,1277.5 721.0,1135.0" stroke="#000" stroke-width="2.3" fill="none" stroke-linejoin="miter"/>
<line x1="135.2" y1="1119.0" x2="128.3" y2="1115.0" stroke="#000" stroke-width="2.3" fill="none"/>
<line x1="135.2" y1="1024.0" x2="128.3" y2="1020.0" stroke="#000" stroke-width="2.3" fill="none"/>
<line x1="135.2" y1="929.0" x2="128.3" y2="925.0" stroke="#000" stroke-width="2.3" fill="none"/>
<line x1="135.2" y1="1119.0" x2="128.0" y2="1122.4" stroke="#000" stroke-width="2.3" fill="none"/>
<line x1="273.8" y1="1198.2" x2="266.6" y2="1201.7" stroke="#000" stroke-width="2.3" fill="none"/>
<line x1="412.4" y1="1277.5" x2="405.2" y2="1280.9" stroke="#000" stroke-width="2.3" fill="none"/>
<line x1="721.0" y1="1135.0" x2="727.9" y2="1139.0" stroke="#000" stroke-width="2.3" fill="none"/>
<line x1="632.8" y1="1175.7" x2="639.8" y2="1179.7" stroke="#000" stroke-width="2.3" fill="none"/>
<line x1="544.7" y1="1216.4" x2="551.6" y2="1220.4" stroke="#000" stroke-width="2.3" fill="none"/>
<line x1="456.5" y1="1257.1" x2="463.4" y2="1261.1" stroke="#000" stroke-width="2.3" fill="none"/>
<text x="290.6" y="685.6" font-size="37" text-anchor="start" stroke="#000" stroke-width="0.45">(</text>
<text x="313.7" y="685.4" font-size="37" text-anchor="middle" stroke="#000" stroke-width="0.45">b</text>
<text x="326.8" y="685.6" font-size="37" text-anchor="start" stroke="#000" stroke-width="0.45">)</text>
<text x="343.5" y="685.7" text-anchor="start" stroke="#000" stroke-width="0.45">European birds</text>
<text x="34.9" y="980.5" text-anchor="middle" stroke="#000" stroke-width="0.45" transform="rotate(-90 34.9 980.5)">Trend since 1980</text>
<rect x="2" y="1016.8" width="6.2" height="11.7" fill="#000"/>
<text x="120.3" y="933.4" text-anchor="end" stroke="#000" stroke-width="0.45">100</text>
<text x="120.3" y="1028.1" text-anchor="end" stroke="#000" stroke-width="0.45">0</text>
<text x="120.3" y="1122.2" text-anchor="end" stroke="#000" stroke-width="0.45">-100</text>
<text x="109.5" y="1157.0" text-anchor="middle" stroke="#000" stroke-width="0.45">2</text>
<text x="248.6" y="1237.0" text-anchor="middle" stroke="#000" stroke-width="0.45">4</text>
<text x="387.8" y="1315.0" text-anchor="middle" stroke="#000" stroke-width="0.45">6</text>
<text x="182.6" y="1293.0" text-anchor="middle" stroke="#000" stroke-width="0.45">Nesting time (month)</text>
<text x="744.0" y="1174.0" text-anchor="middle" stroke="#000" stroke-width="0.45">0</text>
<text x="665.7" y="1214.0" text-anchor="middle" stroke="#000" stroke-width="0.45">20</text>
<text x="577.5" y="1255.5" text-anchor="middle" stroke="#000" stroke-width="0.45">40</text>
<text x="489.7" y="1295.0" text-anchor="middle" stroke="#000" stroke-width="0.45">60</text>
<text x="644.6" y="1293.0" text-anchor="middle" stroke="#000" stroke-width="0.45">Body mass (g)</text>
<g id="under_c"><line x1="135.8" y1="1764.9" x2="461.0" y2="1661.3" stroke="#000" stroke-width="2.6" stroke-dasharray="0.73 11.12" stroke-linecap="round" fill="none"/>
<line x1="461.0" y1="1661.3" x2="718.0" y2="1790.7" stroke="#000" stroke-width="2.6" stroke-dasharray="0.78 11.87" stroke-linecap="round" fill="none"/>
<line x1="135.8" y1="1696.1" x2="461.0" y2="1592.5" stroke="#000" stroke-width="2.6" stroke-dasharray="0.73 11.12" stroke-linecap="round" fill="none"/>
<line x1="461.0" y1="1592.5" x2="718.0" y2="1721.9" stroke="#000" stroke-width="2.6" stroke-dasharray="0.78 11.87" stroke-linecap="round" fill="none"/>
<line x1="135.8" y1="1627.3" x2="461.0" y2="1523.7" stroke="#000" stroke-width="2.6" stroke-dasharray="0.73 11.12" stroke-linecap="round" fill="none"/>
<line x1="461.0" y1="1523.7" x2="718.0" y2="1653.1" stroke="#000" stroke-width="2.6" stroke-dasharray="0.78 11.87" stroke-linecap="round" fill="none"/>
<line x1="135.8" y1="1558.5" x2="461.0" y2="1454.9" stroke="#000" stroke-width="2.6" stroke-dasharray="0.73 11.12" stroke-linecap="round" fill="none"/>
<line x1="461.0" y1="1454.9" x2="718.0" y2="1584.3" stroke="#000" stroke-width="2.6" stroke-dasharray="0.78 11.87" stroke-linecap="round" fill="none"/>
<line x1="135.8" y1="1489.7" x2="461.0" y2="1386.1" stroke="#000" stroke-width="2.6" stroke-dasharray="0.73 11.12" stroke-linecap="round" fill="none"/>
<line x1="461.0" y1="1386.1" x2="718.0" y2="1515.5" stroke="#000" stroke-width="2.6" stroke-dasharray="0.78 11.87" stroke-linecap="round" fill="none"/>
<line x1="200.8" y1="1744.2" x2="200.8" y2="1469.0" stroke="#000" stroke-width="2.6" stroke-dasharray="0.70 10.60" stroke-linecap="round" fill="none"/>
<line x1="200.8" y1="1744.2" x2="457.8" y2="1873.7" stroke="#000" stroke-width="2.6" stroke-dasharray="0.78 11.87" stroke-linecap="round" fill="none"/>
<line x1="265.9" y1="1723.5" x2="265.9" y2="1448.3" stroke="#000" stroke-width="2.6" stroke-dasharray="0.70 10.60" stroke-linecap="round" fill="none"/>
<line x1="265.9" y1="1723.5" x2="522.9" y2="1853.0" stroke="#000" stroke-width="2.6" stroke-dasharray="0.78 11.87" stroke-linecap="round" fill="none"/>
<line x1="330.9" y1="1702.7" x2="330.9" y2="1427.5" stroke="#000" stroke-width="2.6" stroke-dasharray="0.70 10.60" stroke-linecap="round" fill="none"/>
<line x1="330.9" y1="1702.7" x2="587.9" y2="1832.2" stroke="#000" stroke-width="2.6" stroke-dasharray="0.78 11.87" stroke-linecap="round" fill="none"/>
<line x1="396.0" y1="1682.0" x2="396.0" y2="1406.8" stroke="#000" stroke-width="2.6" stroke-dasharray="0.70 10.60" stroke-linecap="round" fill="none"/>
<line x1="396.0" y1="1682.0" x2="653.0" y2="1811.5" stroke="#000" stroke-width="2.6" stroke-dasharray="0.78 11.87" stroke-linecap="round" fill="none"/>
<line x1="461.0" y1="1661.3" x2="461.0" y2="1386.1" stroke="#000" stroke-width="2.6" stroke-dasharray="0.70 10.60" stroke-linecap="round" fill="none"/>
<line x1="461.0" y1="1661.3" x2="718.0" y2="1790.7" stroke="#000" stroke-width="2.6" stroke-dasharray="0.78 11.87" stroke-linecap="round" fill="none"/>
<line x1="461.0" y1="1661.3" x2="461.0" y2="1386.1" stroke="#000" stroke-width="2.6" stroke-dasharray="0.70 10.60" stroke-linecap="round" fill="none"/>
<line x1="135.8" y1="1764.9" x2="461.0" y2="1661.3" stroke="#000" stroke-width="2.6" stroke-dasharray="0.73 11.12" stroke-linecap="round" fill="none"/>
<line x1="546.7" y1="1704.4" x2="546.7" y2="1429.2" stroke="#000" stroke-width="2.6" stroke-dasharray="0.70 10.60" stroke-linecap="round" fill="none"/>
<line x1="221.5" y1="1808.1" x2="546.7" y2="1704.4" stroke="#000" stroke-width="2.6" stroke-dasharray="0.73 11.13" stroke-linecap="round" fill="none"/>
<line x1="632.3" y1="1747.6" x2="632.3" y2="1472.4" stroke="#000" stroke-width="2.6" stroke-dasharray="0.70 10.60" stroke-linecap="round" fill="none"/>
<line x1="307.1" y1="1851.3" x2="632.3" y2="1747.6" stroke="#000" stroke-width="2.6" stroke-dasharray="0.73 11.13" stroke-linecap="round" fill="none"/>
<line x1="718.0" y1="1790.7" x2="718.0" y2="1515.5" stroke="#000" stroke-width="2.6" stroke-dasharray="0.70 10.60" stroke-linecap="round" fill="none"/>
<line x1="392.8" y1="1894.5" x2="718.0" y2="1790.7" stroke="#000" stroke-width="2.6" stroke-dasharray="0.73 11.13" stroke-linecap="round" fill="none"/>
<circle cx="375.1" cy="1534.3" r="9.2" fill="#00ffff"/>
<circle cx="216.1" cy="1581.3" r="9.2" fill="#00ffff"/>
<circle cx="216.1" cy="1550.0" r="9.2" fill="#00ffff"/>
<circle cx="443.4" cy="1555.0" r="9.2" fill="#008000"/>
<circle cx="511.5" cy="1721.5" r="9.2" fill="#000080"/>
<circle cx="464.3" cy="1577.0" r="9.2" fill="#00ffff"/>
<circle cx="518.8" cy="1665.0" r="9.2" fill="#00ffff"/>
<circle cx="430.4" cy="1698.2" r="9.2" fill="#000080"/>
<circle cx="446.0" cy="1631.7" r="9.2" fill="#000080"/>
<circle cx="280.7" cy="1628.2" r="9.2" fill="#008000"/>
<circle cx="551.2" cy="1668.2" r="9.2" fill="#00ffff"/>
<circle cx="321.7" cy="1654.8" r="9.2" fill="#000080"/>
<circle cx="365.2" cy="1665.6" r="9.2" fill="#000080"/>
<circle cx="377.8" cy="1718.0" r="9.2" fill="#00ffff"/>
<circle cx="540.7" cy="1708.0" r="9.2" fill="#008000"/>
<circle cx="359.6" cy="1755.1" r="9.2" fill="#000080"/>
<circle cx="353.4" cy="1777.0" r="9.2" fill="#000080"/>
<circle cx="583.4" cy="1722.6" r="9.2" fill="#008000"/>
<circle cx="388.8" cy="1760.3" r="9.2" fill="#00ffff"/>
<circle cx="442.7" cy="1757.2" r="9.2" fill="#008000"/>
<line x1="216.1" y1="1581.3" x2="216.1" y2="1561.7" stroke="#000" stroke-width="2.6"/>
<line x1="511.5" y1="1721.5" x2="511.5" y2="1581.0" stroke="#000" stroke-width="2.6"/>
<line x1="518.8" y1="1665.0" x2="518.8" y2="1590.0" stroke="#000" stroke-width="2.6"/>
<line x1="430.4" y1="1698.2" x2="430.4" y2="1600.4" stroke="#000" stroke-width="2.6"/>
<line x1="446.0" y1="1631.7" x2="446.0" y2="1610.8" stroke="#000" stroke-width="2.6"/>
<line x1="280.7" y1="1628.2" x2="280.7" y2="1618.0" stroke="#000" stroke-width="2.6"/>
<line x1="551.2" y1="1668.2" x2="551.2" y2="1638.2" stroke="#000" stroke-width="2.6"/>
<line x1="321.7" y1="1654.8" x2="321.7" y2="1639.0" stroke="#000" stroke-width="2.6"/>
<line x1="365.2" y1="1665.6" x2="365.2" y2="1641.0" stroke="#000" stroke-width="2.6"/>
<line x1="377.8" y1="1718.0" x2="377.8" y2="1673.0" stroke="#000" stroke-width="2.6"/>
<line x1="540.7" y1="1708.0" x2="540.7" y2="1675.6" stroke="#000" stroke-width="2.6"/>
<line x1="359.6" y1="1755.1" x2="359.6" y2="1686.0" stroke="#000" stroke-width="2.6"/>
<line x1="353.4" y1="1777.0" x2="353.4" y2="1686.0" stroke="#000" stroke-width="2.6"/>
<line x1="583.4" y1="1722.6" x2="583.4" y2="1710.0" stroke="#000" stroke-width="2.6"/>
<line x1="388.8" y1="1760.3" x2="388.8" y2="1740.5" stroke="#000" stroke-width="2.6"/>
<line x1="442.7" y1="1757.2" x2="442.7" y2="1742.6" stroke="#000" stroke-width="2.6"/></g>
<defs><linearGradient id="gc0_0" gradientUnits="userSpaceOnUse" x1="222.6" y1="1617.5" x2="187.4" y2="1535.9"><stop offset="0" stop-color="#b0b0b0"/><stop offset="1" stop-color="#c9c9c9"/></linearGradient><linearGradient id="gc0_1" gradientUnits="userSpaceOnUse" x1="255.3" y1="1608.9" x2="219.7" y2="1529.6"><stop offset="0" stop-color="#afafaf"/><stop offset="1" stop-color="#c6c6c6"/></linearGradient><linearGradient id="gc0_2" gradientUnits="userSpaceOnUse" x1="288.2" y1="1600.3" x2="251.7" y2="1523.3"><stop offset="0" stop-color="#afafaf"/><stop offset="1" stop-color="#c3c3c3"/></linearGradient><linearGradient id="gc0_3" gradientUnits="userSpaceOnUse" x1="321.4" y1="1591.6" x2="283.5" y2="1517.1"><stop offset="0" stop-color="#aeaeae"/><stop offset="1" stop-color="#c0c0c0"/></linearGradient><linearGradient id="gc0_4" gradientUnits="userSpaceOnUse" x1="355.0" y1="1582.7" x2="314.8" y2="1511.1"><stop offset="0" stop-color="#aeaeae"/><stop offset="1" stop-color="#bdbdbd"/></linearGradient><linearGradient id="gc0_5" gradientUnits="userSpaceOnUse" x1="389.6" y1="1573.2" x2="345.1" y2="1505.8"><stop offset="0" stop-color="#aeaeae"/><stop offset="1" stop-color="#bababa"/></linearGradient><linearGradient id="gc0_6" gradientUnits="userSpaceOnUse" x1="426.4" y1="1561.7" x2="373.4" y2="1502.3"><stop offset="0" stop-color="#aeaeae"/><stop offset="1" stop-color="#b6b6b6"/></linearGradient><linearGradient id="gc0_7" gradientUnits="userSpaceOnUse" x1="467.9" y1="1541.2" x2="396.8" y2="1508.0"><stop offset="0" stop-color="#aeaeae"/><stop offset="1" stop-color="#b3b3b3"/></linearGradient><linearGradient id="gc1_0" gradientUnits="userSpaceOnUse" x1="260.3" y1="1670.7" x2="236.0" y2="1587.2"><stop offset="0" stop-color="#9d9d9d"/><stop offset="1" stop-color="#b7b7b7"/></linearGradient><linearGradient id="gc1_1" gradientUnits="userSpaceOnUse" x1="292.4" y1="1658.8" x2="268.8" y2="1576.9"><stop offset="0" stop-color="#9f9f9f"/><stop offset="1" stop-color="#b6b6b6"/></linearGradient><linearGradient id="gc1_2" gradientUnits="userSpaceOnUse" x1="324.5" y1="1647.0" x2="301.7" y2="1566.5"><stop offset="0" stop-color="#a0a0a0"/><stop offset="1" stop-color="#b6b6b6"/></linearGradient><linearGradient id="gc1_3" gradientUnits="userSpaceOnUse" x1="356.5" y1="1635.3" x2="334.6" y2="1556.1"><stop offset="0" stop-color="#a2a2a2"/><stop offset="1" stop-color="#b5b5b5"/></linearGradient><linearGradient id="gc1_4" gradientUnits="userSpaceOnUse" x1="388.5" y1="1623.6" x2="367.6" y2="1545.6"><stop offset="0" stop-color="#a4a4a4"/><stop offset="1" stop-color="#b4b4b4"/></linearGradient><linearGradient id="gc1_5" gradientUnits="userSpaceOnUse" x1="420.3" y1="1612.1" x2="400.8" y2="1534.9"><stop offset="0" stop-color="#a5a5a5"/><stop offset="1" stop-color="#b3b3b3"/></linearGradient><linearGradient id="gc1_6" gradientUnits="userSpaceOnUse" x1="451.8" y1="1600.7" x2="434.3" y2="1524.1"><stop offset="0" stop-color="#a7a7a7"/><stop offset="1" stop-color="#b2b2b2"/></linearGradient><linearGradient id="gc1_7" gradientUnits="userSpaceOnUse" x1="482.3" y1="1589.5" x2="468.8" y2="1513.1"><stop offset="0" stop-color="#aaaaaa"/><stop offset="1" stop-color="#b1b1b1"/></linearGradient><linearGradient id="gc2_0" gradientUnits="userSpaceOnUse" x1="299.1" y1="1723.1" x2="283.4" y2="1639.3"><stop offset="0" stop-color="#8b8b8b"/><stop offset="1" stop-color="#a5a5a5"/></linearGradient><linearGradient id="gc2_1" gradientUnits="userSpaceOnUse" x1="330.9" y1="1707.7" x2="316.6" y2="1625.3"><stop offset="0" stop-color="#8e8e8e"/><stop offset="1" stop-color="#a7a7a7"/></linearGradient><linearGradient id="gc2_2" gradientUnits="userSpaceOnUse" x1="362.5" y1="1692.3" x2="350.0" y2="1611.1"><stop offset="0" stop-color="#929292"/><stop offset="1" stop-color="#a8a8a8"/></linearGradient><linearGradient id="gc2_3" gradientUnits="userSpaceOnUse" x1="394.0" y1="1677.0" x2="383.5" y2="1596.9"><stop offset="0" stop-color="#959595"/><stop offset="1" stop-color="#aaaaaa"/></linearGradient><linearGradient id="gc2_4" gradientUnits="userSpaceOnUse" x1="425.2" y1="1661.8" x2="417.2" y2="1582.6"><stop offset="0" stop-color="#999999"/><stop offset="1" stop-color="#ababab"/></linearGradient><linearGradient id="gc2_5" gradientUnits="userSpaceOnUse" x1="456.0" y1="1646.7" x2="451.4" y2="1568.3"><stop offset="0" stop-color="#9d9d9d"/><stop offset="1" stop-color="#adadad"/></linearGradient><linearGradient id="gc2_6" gradientUnits="userSpaceOnUse" x1="485.9" y1="1631.6" x2="486.4" y2="1553.9"><stop offset="0" stop-color="#a1a1a1"/><stop offset="1" stop-color="#aeaeae"/></linearGradient><linearGradient id="gc2_7" gradientUnits="userSpaceOnUse" x1="514.4" y1="1616.2" x2="522.9" y2="1539.8"><stop offset="0" stop-color="#a4a4a4"/><stop offset="1" stop-color="#b0b0b0"/></linearGradient><linearGradient id="gc3_0" gradientUnits="userSpaceOnUse" x1="338.9" y1="1775.0" x2="329.9" y2="1691.9"><stop offset="0" stop-color="#787878"/><stop offset="1" stop-color="#939393"/></linearGradient><linearGradient id="gc3_1" gradientUnits="userSpaceOnUse" x1="370.5" y1="1756.0" x2="363.3" y2="1674.1"><stop offset="0" stop-color="#7e7e7e"/><stop offset="1" stop-color="#979797"/></linearGradient><linearGradient id="gc3_2" gradientUnits="userSpaceOnUse" x1="401.9" y1="1737.0" x2="396.9" y2="1656.4"><stop offset="0" stop-color="#838383"/><stop offset="1" stop-color="#9b9b9b"/></linearGradient><linearGradient id="gc3_3" gradientUnits="userSpaceOnUse" x1="433.2" y1="1718.1" x2="430.6" y2="1638.5"><stop offset="0" stop-color="#898989"/><stop offset="1" stop-color="#9f9f9f"/></linearGradient><linearGradient id="gc3_4" gradientUnits="userSpaceOnUse" x1="464.1" y1="1699.2" x2="464.6" y2="1620.6"><stop offset="0" stop-color="#8e8e8e"/><stop offset="1" stop-color="#a3a3a3"/></linearGradient><linearGradient id="gc3_5" gradientUnits="userSpaceOnUse" x1="494.6" y1="1680.3" x2="499.1" y2="1602.8"><stop offset="0" stop-color="#949494"/><stop offset="1" stop-color="#a7a7a7"/></linearGradient><linearGradient id="gc3_6" gradientUnits="userSpaceOnUse" x1="524.5" y1="1661.3" x2="534.2" y2="1585.0"><stop offset="0" stop-color="#9a9a9a"/><stop offset="1" stop-color="#aaaaaa"/></linearGradient><linearGradient id="gc3_7" gradientUnits="userSpaceOnUse" x1="553.4" y1="1642.0" x2="570.3" y2="1567.5"><stop offset="0" stop-color="#a0a0a0"/><stop offset="1" stop-color="#aeaeae"/></linearGradient><linearGradient id="gc4_0" gradientUnits="userSpaceOnUse" x1="379.4" y1="1826.7" x2="375.7" y2="1744.7"><stop offset="0" stop-color="#656565"/><stop offset="1" stop-color="#818181"/></linearGradient><linearGradient id="gc4_1" gradientUnits="userSpaceOnUse" x1="410.9" y1="1804.0" x2="409.2" y2="1723.3"><stop offset="0" stop-color="#6d6d6d"/><stop offset="1" stop-color="#878787"/></linearGradient><linearGradient id="gc4_2" gradientUnits="userSpaceOnUse" x1="442.3" y1="1781.4" x2="442.8" y2="1701.8"><stop offset="0" stop-color="#757575"/><stop offset="1" stop-color="#8e8e8e"/></linearGradient><linearGradient id="gc4_3" gradientUnits="userSpaceOnUse" x1="473.5" y1="1758.8" x2="476.6" y2="1680.4"><stop offset="0" stop-color="#7c7c7c"/><stop offset="1" stop-color="#949494"/></linearGradient><linearGradient id="gc4_4" gradientUnits="userSpaceOnUse" x1="504.4" y1="1736.2" x2="510.7" y2="1658.9"><stop offset="0" stop-color="#848484"/><stop offset="1" stop-color="#9a9a9a"/></linearGradient><linearGradient id="gc4_5" gradientUnits="userSpaceOnUse" x1="535.0" y1="1713.6" x2="545.1" y2="1637.4"><stop offset="0" stop-color="#8c8c8c"/><stop offset="1" stop-color="#a0a0a0"/></linearGradient><linearGradient id="gc4_6" gradientUnits="userSpaceOnUse" x1="565.0" y1="1690.9" x2="580.0" y2="1616.1"><stop offset="0" stop-color="#939393"/><stop offset="1" stop-color="#a6a6a6"/></linearGradient><linearGradient id="gc4_7" gradientUnits="userSpaceOnUse" x1="594.4" y1="1667.9" x2="615.6" y2="1595.0"><stop offset="0" stop-color="#9b9b9b"/><stop offset="1" stop-color="#adadad"/></linearGradient><linearGradient id="gc5_0" gradientUnits="userSpaceOnUse" x1="420.4" y1="1878.3" x2="420.9" y2="1797.5"><stop offset="0" stop-color="#535353"/><stop offset="1" stop-color="#6f6f6f"/></linearGradient><linearGradient id="gc5_1" gradientUnits="userSpaceOnUse" x1="451.9" y1="1852.0" x2="454.4" y2="1772.5"><stop offset="0" stop-color="#5c5c5c"/><stop offset="1" stop-color="#787878"/></linearGradient><linearGradient id="gc5_2" gradientUnits="userSpaceOnUse" x1="483.3" y1="1825.8" x2="488.0" y2="1747.4"><stop offset="0" stop-color="#666666"/><stop offset="1" stop-color="#808080"/></linearGradient><linearGradient id="gc5_3" gradientUnits="userSpaceOnUse" x1="514.5" y1="1799.5" x2="521.8" y2="1722.3"><stop offset="0" stop-color="#707070"/><stop offset="1" stop-color="#898989"/></linearGradient><linearGradient id="gc5_4" gradientUnits="userSpaceOnUse" x1="545.5" y1="1773.3" x2="555.9" y2="1697.1"><stop offset="0" stop-color="#7a7a7a"/><stop offset="1" stop-color="#919191"/></linearGradient><linearGradient id="gc5_5" gradientUnits="userSpaceOnUse" x1="576.2" y1="1747.1" x2="590.2" y2="1672.0"><stop offset="0" stop-color="#838383"/><stop offset="1" stop-color="#9a9a9a"/></linearGradient><linearGradient id="gc5_6" gradientUnits="userSpaceOnUse" x1="606.5" y1="1720.7" x2="624.8" y2="1647.0"><stop offset="0" stop-color="#8d8d8d"/><stop offset="1" stop-color="#a2a2a2"/></linearGradient><linearGradient id="gc5_7" gradientUnits="userSpaceOnUse" x1="636.3" y1="1694.2" x2="660.0" y2="1622.2"><stop offset="0" stop-color="#979797"/><stop offset="1" stop-color="#ababab"/></linearGradient></defs>
<g><polygon points="167.2,1553.4 210.3,1607.5 242.8,1598.2 199.7,1547.8" fill="url(#gc0_0)"/>
<polygon points="199.7,1547.8 242.8,1598.2 275.3,1588.9 232.1,1542.2" fill="url(#gc0_1)"/>
<polygon points="232.1,1542.2 275.3,1588.9 307.8,1579.7 264.6,1536.5" fill="url(#gc0_2)"/>
<polygon points="264.6,1536.5 307.8,1579.7 340.2,1570.4 297.1,1530.9" fill="url(#gc0_3)"/>
<polygon points="297.1,1530.9 340.2,1570.4 372.7,1561.1 329.6,1525.3" fill="url(#gc0_4)"/>
<polygon points="329.6,1525.3 372.7,1561.1 405.2,1551.8 362.1,1519.7" fill="url(#gc0_5)"/>
<polygon points="362.1,1519.7 405.2,1551.8 437.7,1542.6 394.5,1514.0" fill="url(#gc0_6)"/>
<polygon points="394.5,1514.0 437.7,1542.6 470.2,1533.3 427.0,1508.4" fill="url(#gc0_7)"/>
<polygon points="210.3,1607.5 253.5,1661.5 285.9,1648.6 242.8,1598.2" fill="url(#gc1_0)"/>
<polygon points="242.8,1598.2 285.9,1648.6 318.4,1635.7 275.3,1588.9" fill="url(#gc1_1)"/>
<polygon points="275.3,1588.9 318.4,1635.7 350.9,1622.8 307.8,1579.7" fill="url(#gc1_2)"/>
<polygon points="307.8,1579.7 350.9,1622.8 383.4,1609.9 340.2,1570.4" fill="url(#gc1_3)"/>
<polygon points="340.2,1570.4 383.4,1609.9 415.9,1597.0 372.7,1561.1" fill="url(#gc1_4)"/>
<polygon points="372.7,1561.1 415.9,1597.0 448.4,1584.0 405.2,1551.8" fill="url(#gc1_5)"/>
<polygon points="405.2,1551.8 448.4,1584.0 480.8,1571.1 437.7,1542.6" fill="url(#gc1_6)"/>
<polygon points="437.7,1542.6 480.8,1571.1 513.3,1558.2 470.2,1533.3" fill="url(#gc1_7)"/>
<polygon points="253.5,1661.5 296.6,1715.6 329.1,1699.0 285.9,1648.6" fill="url(#gc2_0)"/>
<polygon points="285.9,1648.6 329.1,1699.0 361.6,1682.5 318.4,1635.7" fill="url(#gc2_1)"/>
<polygon points="318.4,1635.7 361.6,1682.5 394.1,1665.9 350.9,1622.8" fill="url(#gc2_2)"/>
<polygon points="350.9,1622.8 394.1,1665.9 426.6,1649.3 383.4,1609.9" fill="url(#gc2_3)"/>
<polygon points="383.4,1609.9 426.6,1649.3 459.0,1632.8 415.9,1597.0" fill="url(#gc2_4)"/>
<polygon points="415.9,1597.0 459.0,1632.8 491.5,1616.2 448.4,1584.0" fill="url(#gc2_5)"/>
<polygon points="448.4,1584.0 491.5,1616.2 524.0,1599.7 480.8,1571.1" fill="url(#gc2_6)"/>
<polygon points="480.8,1571.1 524.0,1599.7 556.5,1583.1 513.3,1558.2" fill="url(#gc2_7)"/>
<polygon points="296.6,1715.6 339.7,1769.7 372.2,1749.5 329.1,1699.0" fill="url(#gc3_0)"/>
<polygon points="329.1,1699.0 372.2,1749.5 404.7,1729.2 361.6,1682.5" fill="url(#gc3_1)"/>
<polygon points="361.6,1682.5 404.7,1729.2 437.2,1709.0 394.1,1665.9" fill="url(#gc3_2)"/>
<polygon points="394.1,1665.9 437.2,1709.0 469.7,1688.8 426.6,1649.3" fill="url(#gc3_3)"/>
<polygon points="426.6,1649.3 469.7,1688.8 502.2,1668.6 459.0,1632.8" fill="url(#gc3_4)"/>
<polygon points="459.0,1632.8 502.2,1668.6 534.7,1648.4 491.5,1616.2" fill="url(#gc3_5)"/>
<polygon points="491.5,1616.2 534.7,1648.4 567.2,1628.2 524.0,1599.7" fill="url(#gc3_6)"/>
<polygon points="524.0,1599.7 567.2,1628.2 599.7,1608.0 556.5,1583.1" fill="url(#gc3_7)"/>
<polygon points="339.7,1769.7 382.9,1823.7 415.4,1799.9 372.2,1749.5" fill="url(#gc4_0)"/>
<polygon points="372.2,1749.5 415.4,1799.9 447.9,1776.0 404.7,1729.2" fill="url(#gc4_1)"/>
<polygon points="404.7,1729.2 447.9,1776.0 480.4,1752.2 437.2,1709.0" fill="url(#gc4_2)"/>
<polygon points="437.2,1709.0 480.4,1752.2 512.9,1728.3 469.7,1688.8" fill="url(#gc4_3)"/>
<polygon points="469.7,1688.8 512.9,1728.3 545.3,1704.5 502.2,1668.6" fill="url(#gc4_4)"/>
<polygon points="502.2,1668.6 545.3,1704.5 577.8,1680.6 534.7,1648.4" fill="url(#gc4_5)"/>
<polygon points="534.7,1648.4 577.8,1680.6 610.3,1656.8 567.2,1628.2" fill="url(#gc4_6)"/>
<polygon points="567.2,1628.2 610.3,1656.8 642.8,1632.9 599.7,1608.0" fill="url(#gc4_7)"/>
<polygon points="382.9,1823.7 426.0,1877.8 458.5,1850.3 415.4,1799.9" fill="url(#gc5_0)"/>
<polygon points="415.4,1799.9 458.5,1850.3 491.0,1822.8 447.9,1776.0" fill="url(#gc5_1)"/>
<polygon points="447.9,1776.0 491.0,1822.8 523.5,1795.3 480.4,1752.2" fill="url(#gc5_2)"/>
<polygon points="480.4,1752.2 523.5,1795.3 556.0,1767.8 512.9,1728.3" fill="url(#gc5_3)"/>
<polygon points="512.9,1728.3 556.0,1767.8 588.5,1740.3 545.3,1704.5" fill="url(#gc5_4)"/>
<polygon points="545.3,1704.5 588.5,1740.3 621.0,1712.8 577.8,1680.6" fill="url(#gc5_5)"/>
<polygon points="577.8,1680.6 621.0,1712.8 653.5,1685.3 610.3,1656.8" fill="url(#gc5_6)"/>
<polygon points="610.3,1656.8 653.5,1685.3 686.0,1657.8 642.8,1632.9" fill="url(#gc5_7)"/></g>
<clipPath id="clip_c"><polygon points="167.2,1553.4 426.0,1877.8 686.0,1657.8 427.0,1508.4"/></clipPath>
<use href="#under_c" clip-path="url(#clip_c)" opacity="0.38"/>
<line x1="167.2" y1="1553.4" x2="427.0" y2="1508.4" stroke="#000" stroke-width="1.6" fill="none"/>
<line x1="210.3" y1="1607.5" x2="470.2" y2="1533.3" stroke="#000" stroke-width="1.6" fill="none"/>
<line x1="253.5" y1="1661.5" x2="513.3" y2="1558.2" stroke="#000" stroke-width="1.6" fill="none"/>
<line x1="296.6" y1="1715.6" x2="556.5" y2="1583.1" stroke="#000" stroke-width="1.6" fill="none"/>
<line x1="339.7" y1="1769.7" x2="599.7" y2="1608.0" stroke="#000" stroke-width="1.6" fill="none"/>
<line x1="382.9" y1="1823.7" x2="642.8" y2="1632.9" stroke="#000" stroke-width="1.6" fill="none"/>
<line x1="426.0" y1="1877.8" x2="686.0" y2="1657.8" stroke="#000" stroke-width="1.6" fill="none"/>
<line x1="167.2" y1="1553.4" x2="426.0" y2="1877.8" stroke="#000" stroke-width="1.6" fill="none"/>
<line x1="199.7" y1="1547.8" x2="458.5" y2="1850.3" stroke="#000" stroke-width="1.6" fill="none"/>
<line x1="232.1" y1="1542.2" x2="491.0" y2="1822.8" stroke="#000" stroke-width="1.6" fill="none"/>
<line x1="264.6" y1="1536.5" x2="523.5" y2="1795.3" stroke="#000" stroke-width="1.6" fill="none"/>
<line x1="297.1" y1="1530.9" x2="556.0" y2="1767.8" stroke="#000" stroke-width="1.6" fill="none"/>
<line x1="329.6" y1="1525.3" x2="588.5" y2="1740.3" stroke="#000" stroke-width="1.6" fill="none"/>
<line x1="362.1" y1="1519.7" x2="621.0" y2="1712.8" stroke="#000" stroke-width="1.6" fill="none"/>
<line x1="394.5" y1="1514.0" x2="653.5" y2="1685.3" stroke="#000" stroke-width="1.6" fill="none"/>
<line x1="427.0" y1="1508.4" x2="686.0" y2="1657.8" stroke="#000" stroke-width="1.6" fill="none"/>
<circle cx="406.9" cy="1487.7" r="9.2" fill="#800080"/>
<circle cx="440.3" cy="1499.2" r="9.2" fill="#ff0000"/>
<line x1="344.4" y1="1491.3" x2="344.4" y2="1518.7" stroke="#000" stroke-width="2.6"/><circle cx="344.4" cy="1491.3" r="9.2" fill="#00ffff"/>
<line x1="297.4" y1="1517.9" x2="297.4" y2="1527.8" stroke="#000" stroke-width="2.6"/><circle cx="297.4" cy="1517.9" r="9.2" fill="#00ffff"/>
<line x1="264.8" y1="1516.8" x2="264.8" y2="1534.3" stroke="#000" stroke-width="2.6"/><circle cx="264.8" cy="1516.8" r="9.2" fill="#00ffff"/>
<circle cx="410.0" cy="1525.3" r="9.2" fill="#800080"/>
<line x1="422.2" y1="1502.3" x2="422.2" y2="1541.0" stroke="#000" stroke-width="2.6"/><circle cx="422.2" cy="1502.3" r="9.2" fill="#00ffff"/>
<circle cx="398.6" cy="1533.6" r="9.2" fill="#ff0000"/>
<circle cx="413.2" cy="1548.2" r="9.2" fill="#800080"/>
<line x1="426.8" y1="1524.2" x2="426.8" y2="1564.0" stroke="#000" stroke-width="2.6"/><circle cx="426.8" cy="1524.2" r="9.2" fill="#ff0000"/>
<line x1="449.3" y1="1500.2" x2="449.3" y2="1566.0" stroke="#000" stroke-width="2.6"/><circle cx="449.3" cy="1500.2" r="9.2" fill="#800080"/>
<circle cx="480.4" cy="1555.5" r="9.2" fill="#ff0000"/>
<line x1="445.5" y1="1521.1" x2="445.5" y2="1574.0" stroke="#000" stroke-width="2.6"/><circle cx="445.5" cy="1521.1" r="9.2" fill="#800080"/>
<circle cx="485.6" cy="1568.8" r="9.2" fill="#800080"/>
<line x1="486.3" y1="1576.7" x2="486.3" y2="1583.0" stroke="#000" stroke-width="2.6"/><circle cx="486.3" cy="1576.7" r="9.2" fill="#008000"/>
<line x1="467.4" y1="1533.6" x2="467.4" y2="1584.0" stroke="#000" stroke-width="2.6"/><circle cx="467.4" cy="1533.6" r="9.2" fill="#800080"/>
<circle cx="423.6" cy="1572.2" r="9.2" fill="#800080"/>
<line x1="506.3" y1="1521.9" x2="506.3" y2="1587.6" stroke="#000" stroke-width="2.6"/><circle cx="506.3" cy="1521.9" r="9.2" fill="#ff0000"/>
<line x1="407.6" y1="1492.5" x2="407.6" y2="1590.0" stroke="#000" stroke-width="2.6"/><circle cx="407.6" cy="1492.5" r="9.2" fill="#ff0000"/>
<circle cx="431.0" cy="1587.5" r="9.2" fill="#ff0000"/>
<circle cx="330.8" cy="1593.0" r="9.2" fill="#008000"/>
<line x1="354.3" y1="1484.8" x2="354.3" y2="1612.0" stroke="#000" stroke-width="2.6"/><circle cx="354.3" cy="1484.8" r="9.2" fill="#ff0000"/>
<line x1="354.3" y1="1542.9" x2="354.3" y2="1612.0" stroke="#000" stroke-width="2.6"/><circle cx="354.3" cy="1542.9" r="9.2" fill="#800080"/>
<circle cx="399.9" cy="1600.4" r="9.2" fill="#00ffff"/>
<line x1="384.3" y1="1529.1" x2="384.3" y2="1617.0" stroke="#000" stroke-width="2.6"/><circle cx="384.3" cy="1529.1" r="9.2" fill="#800080"/>
<line x1="379.8" y1="1551.3" x2="379.8" y2="1617.0" stroke="#000" stroke-width="2.6"/><circle cx="379.8" cy="1551.3" r="9.2" fill="#ff0000"/>
<line x1="529.8" y1="1556.3" x2="529.8" y2="1621.3" stroke="#000" stroke-width="2.6"/><circle cx="529.8" cy="1556.3" r="9.2" fill="#008000"/>
<circle cx="476.0" cy="1618.7" r="9.2" fill="#00ffff"/>
<line x1="323.0" y1="1588.6" x2="323.0" y2="1639.0" stroke="#000" stroke-width="2.6"/><circle cx="323.0" cy="1588.6" r="9.2" fill="#800080"/>
<line x1="364.2" y1="1595.6" x2="364.2" y2="1641.0" stroke="#000" stroke-width="2.6"/><circle cx="364.2" cy="1595.6" r="9.2" fill="#ff0000"/>
<line x1="410.0" y1="1572.2" x2="410.0" y2="1642.0" stroke="#000" stroke-width="2.6"/><circle cx="410.0" cy="1572.2" r="9.2" fill="#ff0000"/>
<line x1="465.1" y1="1647.4" x2="465.1" y2="1657.8" stroke="#000" stroke-width="2.6"/><circle cx="465.1" cy="1647.4" r="9.2" fill="#008000"/>
<circle cx="312.6" cy="1704.3" r="9.2" fill="#00ffff"/>
<polyline points="135.8,1489.7 135.8,1764.9 392.8,1894.5 718.0,1790.7" stroke="#000" stroke-width="2.3" fill="none" stroke-linejoin="miter"/>
<line x1="135.8" y1="1764.9" x2="128.7" y2="1761.3" stroke="#000" stroke-width="2.3" fill="none"/>
<line x1="135.8" y1="1696.1" x2="128.7" y2="1692.5" stroke="#000" stroke-width="2.3" fill="none"/>
<line x1="135.8" y1="1627.3" x2="128.7" y2="1623.7" stroke="#000" stroke-width="2.3" fill="none"/>
<line x1="135.8" y1="1558.5" x2="128.7" y2="1554.9" stroke="#000" stroke-width="2.3" fill="none"/>
<line x1="135.8" y1="1489.7" x2="128.7" y2="1486.1" stroke="#000" stroke-width="2.3" fill="none"/>
<line x1="135.8" y1="1764.9" x2="128.2" y2="1767.3" stroke="#000" stroke-width="2.3" fill="none"/>
<line x1="221.5" y1="1808.1" x2="213.8" y2="1810.5" stroke="#000" stroke-width="2.3" fill="none"/>
<line x1="307.1" y1="1851.3" x2="299.5" y2="1853.7" stroke="#000" stroke-width="2.3" fill="none"/>
<line x1="392.8" y1="1894.5" x2="385.2" y2="1896.9" stroke="#000" stroke-width="2.3" fill="none"/>
<line x1="392.8" y1="1894.5" x2="399.9" y2="1898.1" stroke="#000" stroke-width="2.3" fill="none"/>
<line x1="457.8" y1="1873.7" x2="465.0" y2="1877.3" stroke="#000" stroke-width="2.3" fill="none"/>
<line x1="522.9" y1="1853.0" x2="530.0" y2="1856.6" stroke="#000" stroke-width="2.3" fill="none"/>
<line x1="587.9" y1="1832.2" x2="595.1" y2="1835.8" stroke="#000" stroke-width="2.3" fill="none"/>
<line x1="653.0" y1="1811.5" x2="660.1" y2="1815.1" stroke="#000" stroke-width="2.3" fill="none"/>
<line x1="718.0" y1="1790.7" x2="725.1" y2="1794.3" stroke="#000" stroke-width="2.3" fill="none"/>
<text x="311.7" y="1360.5" font-size="37" text-anchor="start" stroke="#000" stroke-width="0.45">(</text>
<text x="333.4" y="1360.6" font-size="37" text-anchor="middle" stroke="#000" stroke-width="0.45">c</text>
<text x="344.0" y="1360.5" font-size="37" text-anchor="start" stroke="#000" stroke-width="0.45">)</text>
<text x="362.0" y="1360.6" text-anchor="start" stroke="#000" stroke-width="0.45">Bumblebees</text>
<text x="35.0" y="1668.9" text-anchor="middle" stroke="#000" stroke-width="0.45" transform="rotate(-90 35.0 1668.9)">Proportional change</text>
<text x="72.8" y="1613.0" text-anchor="middle" stroke="#000" stroke-width="0.45" transform="rotate(-90 72.8 1613.0)">in range (arc sine trasnformed)</text>
<text x="120.2" y="1494.1" text-anchor="end" stroke="#000" stroke-width="0.45">1</text>
<text x="120.2" y="1562.7" text-anchor="end" stroke="#000" stroke-width="0.45">0</text>
<text x="120.2" y="1631.2" text-anchor="end" stroke="#000" stroke-width="0.45">-1</text>
<text x="120.2" y="1699.9" text-anchor="end" stroke="#000" stroke-width="0.45">-2</text>
<text x="120.2" y="1768.8" text-anchor="end" stroke="#000" stroke-width="0.45">-3</text>
<text x="120.0" y="1801.0" text-anchor="end" stroke="#000" stroke-width="0.45">-2</text>
<text x="196.2" y="1844.0" text-anchor="middle" stroke="#000" stroke-width="0.45">0</text>
<text x="282.2" y="1887.5" text-anchor="middle" stroke="#000" stroke-width="0.45">2</text>
<text x="368.0" y="1931.0" text-anchor="middle" stroke="#000" stroke-width="0.45">4</text>
<text x="335.5" y="1928.5" text-anchor="end" stroke="#000" stroke-width="0.45">Relative timing</text>
<text x="350.5" y="1964.0" text-anchor="end" stroke="#000" stroke-width="0.45">of nesting (month)</text>
<text x="417.5" y="1932.0" text-anchor="middle" stroke="#000" stroke-width="0.45">6</text>
<text x="482.6" y="1911.5" text-anchor="middle" stroke="#000" stroke-width="0.45">4</text>
<text x="548.3" y="1891.0" text-anchor="middle" stroke="#000" stroke-width="0.45">2</text>
<text x="613.0" y="1871.5" text-anchor="middle" stroke="#000" stroke-width="0.45">0</text>
<text x="697.6" y="1851.5" text-anchor="end" stroke="#000" stroke-width="0.45">-2</text>
<text x="763.6" y="1830.0" text-anchor="end" stroke="#000" stroke-width="0.45">-4</text>
<text x="521.5" y="1934.5" text-anchor="start" stroke="#000" stroke-width="0.45">Relative queen</text>
<text x="521.5" y="1968.0" text-anchor="start" stroke="#000" stroke-width="0.45">size (mm)</text>
</g>
</svg>
</body></html>
